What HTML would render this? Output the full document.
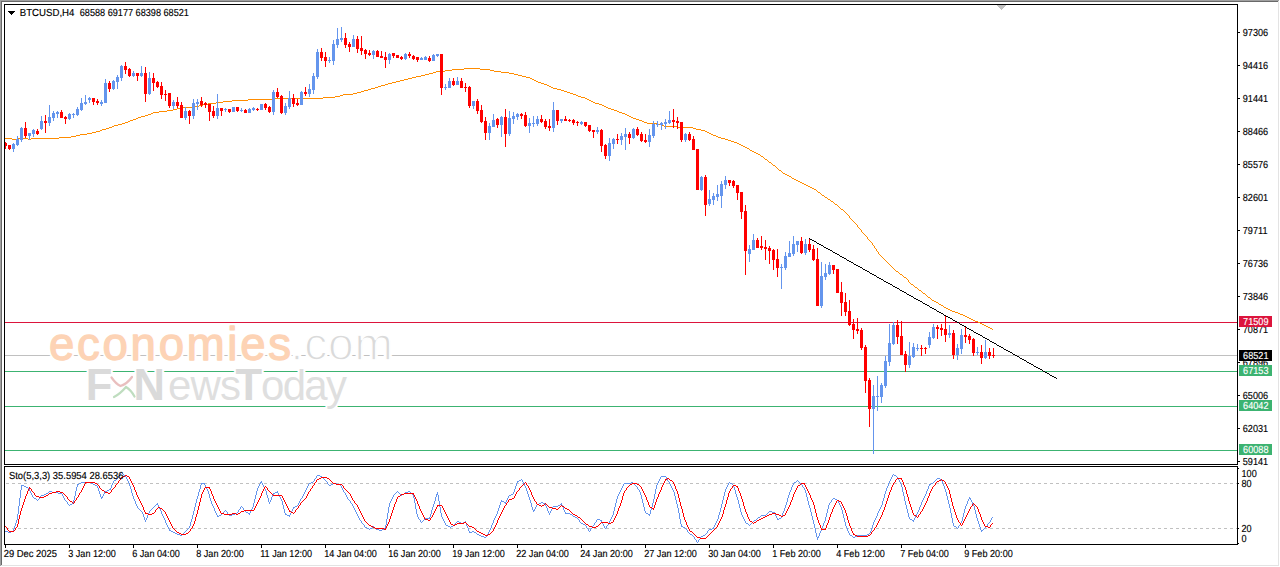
<!DOCTYPE html>
<html><head><meta charset="utf-8"><title>BTCUSD,H4</title>
<style>html,body{margin:0;padding:0;background:#fff;overflow:hidden}body{width:1280px;height:567px;font-family:"Liberation Sans",sans-serif}svg{display:block;position:absolute;left:0;top:0}text{font-family:"Liberation Sans",sans-serif}</style></head><body>
<svg width="1280" height="567" viewBox="0 0 1280 567">
<rect x="0" y="0" width="1280" height="567" fill="#fff"/>
<g shape-rendering="crispEdges">
<rect x="0" y="0" width="1279" height="1" fill="#A0A0A0"/>
<rect x="0" y="0" width="1" height="566" fill="#A0A0A0"/>
<rect x="1" y="1" width="1277" height="1" fill="#696969"/>
<rect x="1" y="1" width="1" height="564" fill="#696969"/>
<rect x="1" y="565" width="1278" height="1" fill="#E3E3E3"/>
<rect x="1278" y="1" width="1" height="565" fill="#E3E3E3"/>
</g>
<g shape-rendering="crispEdges">
<rect x="5" y="322" width="1232" height="1" fill="#DC143C"/>
<rect x="5" y="355" width="1232" height="1" fill="#C0C0C0"/>
<rect x="5" y="371" width="1232" height="1" fill="#3CB371"/>
<rect x="5" y="406" width="1232" height="1" fill="#3CB371"/>
<rect x="5" y="450" width="1232" height="1" fill="#3CB371"/>
</g>
<g id="wm">
<g font-size="45.5" letter-spacing="2.75">
<text x="49" y="360" fill="#fff" stroke="#fff" stroke-width="5" stroke-linejoin="round">economies</text>
<text x="49" y="360" fill="#FDD3B5" stroke="#FDD3B5" stroke-width="1.3" stroke-linejoin="round">economies</text>
</g>
<g font-size="46" letter-spacing="0.9">
<text x="290.5" y="360" fill="#fff" stroke="#fff" stroke-width="4">.com</text>
<text x="290.5" y="360" fill="#DADADA" stroke="#fff" stroke-width="1.4">.com</text>
</g>
<g fill="#fff" stroke="#fff" stroke-width="4">
<text x="85.7" y="400" font-size="43.5" font-weight="bold">F</text>
<text x="133.6" y="400" font-size="43.5" font-weight="bold">N</text>
<text x="168" y="400" font-size="42" letter-spacing="-0.9">ews</text>
<text x="235.6" y="400" font-size="43.5" font-weight="bold">T</text>
<text x="261" y="400" font-size="42" letter-spacing="-1.7">oday</text>
</g>
<g fill="#DADADA">
<text x="85.7" y="400" font-size="43.5" font-weight="bold">F</text>
<text x="133.6" y="400" font-size="43.5" font-weight="bold">N</text>
<text x="168" y="400" font-size="42" letter-spacing="-0.9" fill="#DFDFDF">ews</text>
<text x="235.6" y="400" font-size="43.5" font-weight="bold">T</text>
<text x="261" y="400" font-size="42" letter-spacing="-1.7" fill="#DFDFDF">oday</text>
</g>
<path d="M111.5 377.5 Q116 384 120.5 386 Q127 384 132 377" fill="none" stroke="#E9BFBF" stroke-width="2.2" stroke-linecap="round"/>
<path d="M114 397 Q120 394 126 387 Q131 390 134.5 396.5" fill="none" stroke="#BFDDBF" stroke-width="2.2" stroke-linecap="round"/>
</g>

<g shape-rendering="crispEdges" fill="#C0C0C0">
<path d="M6 483h3v1h-3zM12 483h3v1h-3zM18 483h3v1h-3zM24 483h3v1h-3zM30 483h3v1h-3zM36 483h3v1h-3zM42 483h3v1h-3zM48 483h3v1h-3zM54 483h3v1h-3zM60 483h3v1h-3zM66 483h3v1h-3zM72 483h3v1h-3zM78 483h3v1h-3zM84 483h3v1h-3zM90 483h3v1h-3zM96 483h3v1h-3zM102 483h3v1h-3zM108 483h3v1h-3zM114 483h3v1h-3zM120 483h3v1h-3zM126 483h3v1h-3zM132 483h3v1h-3zM138 483h3v1h-3zM144 483h3v1h-3zM150 483h3v1h-3zM156 483h3v1h-3zM162 483h3v1h-3zM168 483h3v1h-3zM174 483h3v1h-3zM180 483h3v1h-3zM186 483h3v1h-3zM192 483h3v1h-3zM198 483h3v1h-3zM204 483h3v1h-3zM210 483h3v1h-3zM216 483h3v1h-3zM222 483h3v1h-3zM228 483h3v1h-3zM234 483h3v1h-3zM240 483h3v1h-3zM246 483h3v1h-3zM252 483h3v1h-3zM258 483h3v1h-3zM264 483h3v1h-3zM270 483h3v1h-3zM276 483h3v1h-3zM282 483h3v1h-3zM288 483h3v1h-3zM294 483h3v1h-3zM300 483h3v1h-3zM306 483h3v1h-3zM312 483h3v1h-3zM318 483h3v1h-3zM324 483h3v1h-3zM330 483h3v1h-3zM336 483h3v1h-3zM342 483h3v1h-3zM348 483h3v1h-3zM354 483h3v1h-3zM360 483h3v1h-3zM366 483h3v1h-3zM372 483h3v1h-3zM378 483h3v1h-3zM384 483h3v1h-3zM390 483h3v1h-3zM396 483h3v1h-3zM402 483h3v1h-3zM408 483h3v1h-3zM414 483h3v1h-3zM420 483h3v1h-3zM426 483h3v1h-3zM432 483h3v1h-3zM438 483h3v1h-3zM444 483h3v1h-3zM450 483h3v1h-3zM456 483h3v1h-3zM462 483h3v1h-3zM468 483h3v1h-3zM474 483h3v1h-3zM480 483h3v1h-3zM486 483h3v1h-3zM492 483h3v1h-3zM498 483h3v1h-3zM504 483h3v1h-3zM510 483h3v1h-3zM516 483h3v1h-3zM522 483h3v1h-3zM528 483h3v1h-3zM534 483h3v1h-3zM540 483h3v1h-3zM546 483h3v1h-3zM552 483h3v1h-3zM558 483h3v1h-3zM564 483h3v1h-3zM570 483h3v1h-3zM576 483h3v1h-3zM582 483h3v1h-3zM588 483h3v1h-3zM594 483h3v1h-3zM600 483h3v1h-3zM606 483h3v1h-3zM612 483h3v1h-3zM618 483h3v1h-3zM624 483h3v1h-3zM630 483h3v1h-3zM636 483h3v1h-3zM642 483h3v1h-3zM648 483h3v1h-3zM654 483h3v1h-3zM660 483h3v1h-3zM666 483h3v1h-3zM672 483h3v1h-3zM678 483h3v1h-3zM684 483h3v1h-3zM690 483h3v1h-3zM696 483h3v1h-3zM702 483h3v1h-3zM708 483h3v1h-3zM714 483h3v1h-3zM720 483h3v1h-3zM726 483h3v1h-3zM732 483h3v1h-3zM738 483h3v1h-3zM744 483h3v1h-3zM750 483h3v1h-3zM756 483h3v1h-3zM762 483h3v1h-3zM768 483h3v1h-3zM774 483h3v1h-3zM780 483h3v1h-3zM786 483h3v1h-3zM792 483h3v1h-3zM798 483h3v1h-3zM804 483h3v1h-3zM810 483h3v1h-3zM816 483h3v1h-3zM822 483h3v1h-3zM828 483h3v1h-3zM834 483h3v1h-3zM840 483h3v1h-3zM846 483h3v1h-3zM852 483h3v1h-3zM858 483h3v1h-3zM864 483h3v1h-3zM870 483h3v1h-3zM876 483h3v1h-3zM882 483h3v1h-3zM888 483h3v1h-3zM894 483h3v1h-3zM900 483h3v1h-3zM906 483h3v1h-3zM912 483h3v1h-3zM918 483h3v1h-3zM924 483h3v1h-3zM930 483h3v1h-3zM936 483h3v1h-3zM942 483h3v1h-3zM948 483h3v1h-3zM954 483h3v1h-3zM960 483h3v1h-3zM966 483h3v1h-3zM972 483h3v1h-3zM978 483h3v1h-3zM984 483h3v1h-3zM990 483h3v1h-3zM996 483h3v1h-3zM1002 483h3v1h-3zM1008 483h3v1h-3zM1014 483h3v1h-3zM1020 483h3v1h-3zM1026 483h3v1h-3zM1032 483h3v1h-3zM1038 483h3v1h-3zM1044 483h3v1h-3zM1050 483h3v1h-3zM1056 483h3v1h-3zM1062 483h3v1h-3zM1068 483h3v1h-3zM1074 483h3v1h-3zM1080 483h3v1h-3zM1086 483h3v1h-3zM1092 483h3v1h-3zM1098 483h3v1h-3zM1104 483h3v1h-3zM1110 483h3v1h-3zM1116 483h3v1h-3zM1122 483h3v1h-3zM1128 483h3v1h-3zM1134 483h3v1h-3zM1140 483h3v1h-3zM1146 483h3v1h-3zM1152 483h3v1h-3zM1158 483h3v1h-3zM1164 483h3v1h-3zM1170 483h3v1h-3zM1176 483h3v1h-3zM1182 483h3v1h-3zM1188 483h3v1h-3zM1194 483h3v1h-3zM1200 483h3v1h-3zM1206 483h3v1h-3zM1212 483h3v1h-3zM1218 483h3v1h-3zM1224 483h3v1h-3zM1230 483h3v1h-3zM1236 483h1v1h-1z"/>
<path d="M6 528h3v1h-3zM12 528h3v1h-3zM18 528h3v1h-3zM24 528h3v1h-3zM30 528h3v1h-3zM36 528h3v1h-3zM42 528h3v1h-3zM48 528h3v1h-3zM54 528h3v1h-3zM60 528h3v1h-3zM66 528h3v1h-3zM72 528h3v1h-3zM78 528h3v1h-3zM84 528h3v1h-3zM90 528h3v1h-3zM96 528h3v1h-3zM102 528h3v1h-3zM108 528h3v1h-3zM114 528h3v1h-3zM120 528h3v1h-3zM126 528h3v1h-3zM132 528h3v1h-3zM138 528h3v1h-3zM144 528h3v1h-3zM150 528h3v1h-3zM156 528h3v1h-3zM162 528h3v1h-3zM168 528h3v1h-3zM174 528h3v1h-3zM180 528h3v1h-3zM186 528h3v1h-3zM192 528h3v1h-3zM198 528h3v1h-3zM204 528h3v1h-3zM210 528h3v1h-3zM216 528h3v1h-3zM222 528h3v1h-3zM228 528h3v1h-3zM234 528h3v1h-3zM240 528h3v1h-3zM246 528h3v1h-3zM252 528h3v1h-3zM258 528h3v1h-3zM264 528h3v1h-3zM270 528h3v1h-3zM276 528h3v1h-3zM282 528h3v1h-3zM288 528h3v1h-3zM294 528h3v1h-3zM300 528h3v1h-3zM306 528h3v1h-3zM312 528h3v1h-3zM318 528h3v1h-3zM324 528h3v1h-3zM330 528h3v1h-3zM336 528h3v1h-3zM342 528h3v1h-3zM348 528h3v1h-3zM354 528h3v1h-3zM360 528h3v1h-3zM366 528h3v1h-3zM372 528h3v1h-3zM378 528h3v1h-3zM384 528h3v1h-3zM390 528h3v1h-3zM396 528h3v1h-3zM402 528h3v1h-3zM408 528h3v1h-3zM414 528h3v1h-3zM420 528h3v1h-3zM426 528h3v1h-3zM432 528h3v1h-3zM438 528h3v1h-3zM444 528h3v1h-3zM450 528h3v1h-3zM456 528h3v1h-3zM462 528h3v1h-3zM468 528h3v1h-3zM474 528h3v1h-3zM480 528h3v1h-3zM486 528h3v1h-3zM492 528h3v1h-3zM498 528h3v1h-3zM504 528h3v1h-3zM510 528h3v1h-3zM516 528h3v1h-3zM522 528h3v1h-3zM528 528h3v1h-3zM534 528h3v1h-3zM540 528h3v1h-3zM546 528h3v1h-3zM552 528h3v1h-3zM558 528h3v1h-3zM564 528h3v1h-3zM570 528h3v1h-3zM576 528h3v1h-3zM582 528h3v1h-3zM588 528h3v1h-3zM594 528h3v1h-3zM600 528h3v1h-3zM606 528h3v1h-3zM612 528h3v1h-3zM618 528h3v1h-3zM624 528h3v1h-3zM630 528h3v1h-3zM636 528h3v1h-3zM642 528h3v1h-3zM648 528h3v1h-3zM654 528h3v1h-3zM660 528h3v1h-3zM666 528h3v1h-3zM672 528h3v1h-3zM678 528h3v1h-3zM684 528h3v1h-3zM690 528h3v1h-3zM696 528h3v1h-3zM702 528h3v1h-3zM708 528h3v1h-3zM714 528h3v1h-3zM720 528h3v1h-3zM726 528h3v1h-3zM732 528h3v1h-3zM738 528h3v1h-3zM744 528h3v1h-3zM750 528h3v1h-3zM756 528h3v1h-3zM762 528h3v1h-3zM768 528h3v1h-3zM774 528h3v1h-3zM780 528h3v1h-3zM786 528h3v1h-3zM792 528h3v1h-3zM798 528h3v1h-3zM804 528h3v1h-3zM810 528h3v1h-3zM816 528h3v1h-3zM822 528h3v1h-3zM828 528h3v1h-3zM834 528h3v1h-3zM840 528h3v1h-3zM846 528h3v1h-3zM852 528h3v1h-3zM858 528h3v1h-3zM864 528h3v1h-3zM870 528h3v1h-3zM876 528h3v1h-3zM882 528h3v1h-3zM888 528h3v1h-3zM894 528h3v1h-3zM900 528h3v1h-3zM906 528h3v1h-3zM912 528h3v1h-3zM918 528h3v1h-3zM924 528h3v1h-3zM930 528h3v1h-3zM936 528h3v1h-3zM942 528h3v1h-3zM948 528h3v1h-3zM954 528h3v1h-3zM960 528h3v1h-3zM966 528h3v1h-3zM972 528h3v1h-3zM978 528h3v1h-3zM984 528h3v1h-3zM990 528h3v1h-3zM996 528h3v1h-3zM1002 528h3v1h-3zM1008 528h3v1h-3zM1014 528h3v1h-3zM1020 528h3v1h-3zM1026 528h3v1h-3zM1032 528h3v1h-3zM1038 528h3v1h-3zM1044 528h3v1h-3zM1050 528h3v1h-3zM1056 528h3v1h-3zM1062 528h3v1h-3zM1068 528h3v1h-3zM1074 528h3v1h-3zM1080 528h3v1h-3zM1086 528h3v1h-3zM1092 528h3v1h-3zM1098 528h3v1h-3zM1104 528h3v1h-3zM1110 528h3v1h-3zM1116 528h3v1h-3zM1122 528h3v1h-3zM1128 528h3v1h-3zM1134 528h3v1h-3zM1140 528h3v1h-3zM1146 528h3v1h-3zM1152 528h3v1h-3zM1158 528h3v1h-3zM1164 528h3v1h-3zM1170 528h3v1h-3zM1176 528h3v1h-3zM1182 528h3v1h-3zM1188 528h3v1h-3zM1194 528h3v1h-3zM1200 528h3v1h-3zM1206 528h3v1h-3zM1212 528h3v1h-3zM1218 528h3v1h-3zM1224 528h3v1h-3zM1230 528h3v1h-3zM1236 528h1v1h-1z"/>
</g>
<path fill="#FF8C00" shape-rendering="crispEdges" d="M5 138h7v1h-7zM12 139h6v1h-6zM18 138h10v1h-10zM28 139h3v1h-3zM31 138h28v1h-28zM59 137h12v1h-12zM71 136h5v1h-5zM76 135h4v1h-4zM80 134h7v1h-7zM87 133h5v1h-5zM92 132h4v1h-4zM96 131h4v1h-4zM100 130h2v1h-2zM102 129h4v1h-4zM106 128h3v1h-3zM109 127h3v1h-3zM112 126h2v1h-2zM114 125h4v1h-4zM118 124h4v1h-4zM122 123h3v1h-3zM125 122h3v1h-3zM128 121h2v1h-2zM130 120h3v1h-3zM133 119h3v1h-3zM136 118h2v1h-2zM138 117h3v1h-3zM141 116h4v1h-4zM145 115h3v1h-3zM148 114h3v1h-3zM151 113h2v1h-2zM153 112h6v1h-6zM159 111h8v1h-8zM167 110h6v1h-6zM173 109h4v1h-4zM177 108h4v1h-4zM181 107h14v1h-14zM195 106h4v1h-4zM199 105h4v1h-4zM203 104h5v1h-5zM208 103h8v1h-8zM216 102h7v1h-7zM223 101h9v1h-9zM232 100h16v1h-16zM248 99h24v1h-24zM272 98h51v1h-51zM323 97h12v1h-12zM335 96h5v1h-5zM340 95h3v1h-3zM343 94h10v1h-10zM353 93h4v1h-4zM357 92h4v1h-4zM361 91h3v1h-3zM364 90h4v1h-4zM368 89h3v1h-3zM371 88h4v1h-4zM375 87h3v1h-3zM378 86h3v1h-3zM381 85h4v1h-4zM385 84h3v1h-3zM388 83h4v1h-4zM392 82h4v1h-4zM396 81h4v1h-4zM400 80h4v1h-4zM404 79h4v1h-4zM408 78h4v1h-4zM412 77h4v1h-4zM416 76h5v1h-5zM421 75h4v1h-4zM425 74h4v1h-4zM429 73h4v1h-4zM433 72h3v1h-3zM436 71h9v1h-9zM445 70h7v1h-7zM452 69h12v1h-12zM464 68h16v1h-16zM480 69h10v1h-10zM490 70h4v1h-4zM494 71h7v1h-7zM501 72h8v1h-8zM509 73h5v1h-5zM514 74h4v1h-4zM518 75h4v1h-4zM522 76h4v1h-4zM526 77h4v1h-4zM530 78h2v1h-2zM532 79h2v1h-2zM534 80h2v1h-2zM536 81h2v1h-2zM538 82h3v1h-3zM541 83h3v1h-3zM544 84h3v1h-3zM547 85h2v1h-2zM549 86h2v1h-2zM551 87h2v1h-2zM553 88h4v1h-4zM557 89h4v1h-4zM561 90h3v1h-3zM564 91h3v1h-3zM567 92h3v1h-3zM570 93h3v1h-3zM573 94h3v1h-3zM576 95h2v1h-2zM578 96h3v1h-3zM581 97h4v1h-4zM585 98h2v1h-2zM587 99h2v1h-2zM589 100h2v1h-2zM591 101h2v1h-2zM593 102h2v1h-2zM595 103h4v1h-4zM599 104h3v1h-3zM602 105h2v1h-2zM604 106h2v1h-2zM606 107h2v1h-2zM608 108h3v1h-3zM611 109h3v1h-3zM614 110h3v1h-3zM617 111h2v1h-2zM619 112h3v1h-3zM622 113h3v1h-3zM625 114h2v1h-2zM627 115h2v1h-2zM629 116h2v1h-2zM631 117h2v1h-2zM633 118h3v1h-3zM636 119h3v1h-3zM639 120h3v1h-3zM642 121h2v1h-2zM644 122h3v1h-3zM647 123h11v1h-11zM658 124h4v1h-4zM662 125h2v1h-2zM664 126h13v1h-13zM677 127h16v1h-16zM693 128h3v1h-3zM696 129h5v1h-5zM701 130h4v1h-4zM705 131h2v1h-2zM707 132h2v1h-2zM709 133h2v1h-2zM711 134h2v1h-2zM713 135h3v1h-3zM716 136h2v1h-2zM718 137h3v1h-3zM721 138h4v1h-4zM725 139h3v1h-3zM728 140h3v1h-3zM731 141h3v1h-3zM734 142h3v1h-3zM737 143h2v1h-2zM739 144h2v1h-2zM741 145h2v1h-2zM743 146h2v1h-2zM745 147h2v1h-2zM747 148h2v1h-2zM749 149h1v1h-1zM750 150h2v1h-2zM752 151h2v1h-2zM754 152h2v1h-2zM756 153h2v1h-2zM758 154h2v1h-2zM760 155h1v1h-1zM761 156h2v1h-2zM763 157h1v1h-1zM764 158h1v1h-1zM765 159h2v1h-2zM767 160h1v1h-1zM768 161h1v1h-1zM769 162h2v1h-2zM771 163h1v1h-1zM772 164h1v1h-1zM773 165h2v1h-2zM775 166h1v1h-1zM776 167h1v1h-1zM777 168h1v1h-1zM778 169h1v1h-1zM779 170h2v1h-2zM781 171h1v1h-1zM782 172h1v1h-1zM783 173h2v1h-2zM785 174h2v1h-2zM787 175h2v1h-2zM789 176h2v1h-2zM791 177h1v1h-1zM792 178h2v1h-2zM794 179h2v1h-2zM796 180h2v1h-2zM798 181h2v1h-2zM800 182h2v1h-2zM802 183h2v1h-2zM804 184h2v1h-2zM806 185h2v1h-2zM808 186h2v1h-2zM810 187h2v1h-2zM812 188h2v1h-2zM814 189h2v1h-2zM816 190h1v1h-1zM817 191h1v1h-1zM818 192h2v1h-2zM820 193h1v1h-1zM821 194h1v1h-1zM822 195h2v1h-2zM824 196h1v1h-1zM825 197h2v1h-2zM827 198h1v1h-1zM828 199h2v1h-2zM830 200h1v1h-1zM831 201h2v1h-2zM833 202h1v1h-1zM834 203h1v1h-1zM835 204h2v1h-2zM837 205h1v1h-1zM838 206h1v1h-1zM839 207h1v1h-1zM840 208h1v1h-1zM841 209h2v1h-2zM843 210h1v1h-1zM844 211h1v1h-1zM845 212h1v1h-1zM846 213h1v1h-1zM847 214h1v1h-1zM848 215h1v1h-1zM849 216h1v1h-1zM849 217h1v1h-1zM850 218h1v1h-1zM851 219h1v1h-1zM852 220h1v1h-1zM853 221h1v1h-1zM854 222h1v1h-1zM855 223h1v1h-1zM856 224h1v1h-1zM857 225h1v1h-1zM857 226h1v1h-1zM858 227h1v1h-1zM859 228h1v1h-1zM860 229h1v1h-1zM861 230h1v1h-1zM861 231h1v1h-1zM862 232h1v1h-1zM863 233h1v1h-1zM864 234h1v1h-1zM865 235h1v1h-1zM866 236h1v1h-1zM867 237h1v1h-1zM867 238h1v1h-1zM868 239h1v1h-1zM869 240h1v1h-1zM870 241h1v1h-1zM871 242h1v1h-1zM872 243h1v1h-1zM872 244h1v1h-1zM873 245h1v1h-1zM874 246h1v1h-1zM874 247h1v1h-1zM875 248h1v1h-1zM876 249h1v1h-1zM876 250h1v1h-1zM877 251h1v1h-1zM878 252h1v1h-1zM878 253h1v1h-1zM879 254h1v1h-1zM880 255h1v1h-1zM881 256h1v1h-1zM882 257h1v1h-1zM883 258h1v1h-1zM884 259h1v1h-1zM885 260h1v1h-1zM886 261h1v1h-1zM887 262h1v1h-1zM888 263h1v1h-1zM889 264h1v1h-1zM890 265h1v1h-1zM891 266h1v1h-1zM892 267h1v1h-1zM893 268h1v1h-1zM894 269h1v1h-1zM895 270h1v1h-1zM896 271h2v1h-2zM898 272h1v1h-1zM899 273h1v1h-1zM900 274h2v1h-2zM902 275h1v1h-1zM903 276h1v1h-1zM904 277h2v1h-2zM906 278h1v1h-1zM907 279h1v1h-1zM908 280h1v1h-1zM908 281h1v1h-1zM909 282h1v1h-1zM910 283h1v1h-1zM911 284h2v1h-2zM913 285h1v1h-1zM914 286h1v1h-1zM915 287h2v1h-2zM917 288h1v1h-1zM918 289h1v1h-1zM919 290h2v1h-2zM921 291h1v1h-1zM922 292h1v1h-1zM923 293h2v1h-2zM925 294h1v1h-1zM926 295h1v1h-1zM927 296h1v1h-1zM928 297h2v1h-2zM930 298h1v1h-1zM931 299h1v1h-1zM932 300h2v1h-2zM934 301h2v1h-2zM936 302h2v1h-2zM938 303h1v1h-1zM939 304h2v1h-2zM941 305h2v1h-2zM943 306h1v1h-1zM944 307h2v1h-2zM946 308h2v1h-2zM948 309h2v1h-2zM950 310h2v1h-2zM952 311h3v1h-3zM955 312h3v1h-3zM958 313h2v1h-2zM960 314h3v1h-3zM963 315h2v1h-2zM965 316h2v1h-2zM967 317h2v1h-2zM969 318h2v1h-2zM971 319h2v1h-2zM973 320h2v1h-2zM975 321h3v1h-3zM978 322h2v1h-2zM980 323h2v1h-2zM982 324h2v1h-2zM984 325h2v1h-2zM986 326h2v1h-2zM988 327h2v1h-2zM990 328h2v1h-2zM992 329h1v1h-1z"/>
<g shape-rendering="crispEdges">
<path fill="#6495ED" d="M13 143h1v9h-1zM12 144h3v5h-3zM17 136h1v10h-1zM16 139h3v6h-3zM21 127h1v15h-1zM20 128h3v12h-3zM29 133h1v7h-1zM28 133h3v3h-3zM33 129h1v8h-1zM32 130h3v4h-3zM41 116h1v14h-1zM40 121h3v8h-3zM49 105h1v21h-1zM48 117h3v6h-3zM53 111h1v10h-1zM52 113h3v5h-3zM57 111h1v7h-1zM56 112h3v2h-3zM69 113h1v7h-1zM68 114h3v5h-3zM73 113h1v5h-1zM72 114h3v1h-3zM77 107h1v9h-1zM76 109h3v6h-3zM81 98h1v13h-1zM80 103h3v7h-3zM85 95h1v10h-1zM84 102h3v2h-3zM89 97h1v6h-1zM88 98h3v2h-3zM101 100h1v6h-1zM100 102h3v2h-3zM105 79h1v24h-1zM104 83h3v20h-3zM113 80h1v10h-1zM112 81h3v8h-3zM117 75h1v14h-1zM116 77h3v5h-3zM121 65h1v16h-1zM120 66h3v12h-3zM133 71h1v6h-1zM132 73h3v3h-3zM141 66h1v11h-1zM140 73h3v3h-3zM149 72h1v23h-1zM148 78h3v16h-3zM173 100h1v9h-1zM172 102h3v4h-3zM185 107h1v13h-1zM184 111h3v7h-3zM193 99h1v20h-1zM192 103h3v13h-3zM197 99h1v11h-1zM196 102h3v2h-3zM217 94h1v25h-1zM216 108h3v8h-3zM225 108h1v4h-1zM224 109h3v1h-3zM233 107h1v5h-1zM232 107h3v5h-3zM241 108h1v4h-1zM240 110h3v1h-3zM249 108h1v5h-1zM248 109h3v4h-3zM253 107h1v4h-1zM252 108h3v2h-3zM261 104h1v6h-1zM260 104h3v6h-3zM273 90h1v25h-1zM272 92h3v20h-3zM285 103h1v12h-1zM284 106h3v7h-3zM289 91h1v18h-1zM288 98h3v9h-3zM301 91h1v14h-1zM300 92h3v13h-3zM309 84h1v13h-1zM308 89h3v5h-3zM313 73h1v21h-1zM312 76h3v14h-3zM317 49h1v30h-1zM316 52h3v25h-3zM329 57h1v6h-1zM328 60h3v1h-3zM333 40h1v25h-1zM332 44h3v17h-3zM337 28h1v20h-1zM336 39h3v6h-3zM341 27h1v15h-1zM340 38h3v2h-3zM353 35h1v12h-1zM352 39h3v8h-3zM373 50h1v9h-1zM372 51h3v4h-3zM389 53h1v11h-1zM388 54h3v6h-3zM405 53h1v7h-1zM404 54h3v5h-3zM421 57h1v3h-1zM420 58h3v2h-3zM425 56h1v4h-1zM424 57h3v3h-3zM433 54h1v7h-1zM432 55h3v6h-3zM437 54h1v3h-1zM436 54h3v2h-3zM445 84h1v6h-1zM444 87h3v1h-3zM449 78h1v10h-1zM448 81h3v7h-3zM457 77h1v8h-1zM456 81h3v4h-3zM473 101h1v8h-1zM472 101h3v5h-3zM489 123h1v17h-1zM488 126h3v7h-3zM493 114h1v13h-1zM492 120h3v7h-3zM501 116h1v21h-1zM500 117h3v8h-3zM509 111h1v25h-1zM508 118h3v16h-3zM513 112h1v12h-1zM512 116h3v3h-3zM517 113h1v7h-1zM516 114h3v3h-3zM529 118h1v15h-1zM528 123h3v3h-3zM533 116h1v11h-1zM532 123h3v1h-3zM537 116h1v10h-1zM536 119h3v5h-3zM553 102h1v30h-1zM552 110h3v18h-3zM561 119h1v4h-1zM560 119h3v2h-3zM581 121h1v4h-1zM580 122h3v2h-3zM597 127h1v7h-1zM596 130h3v2h-3zM609 138h1v23h-1zM608 143h3v13h-3zM613 138h1v11h-1zM612 139h3v5h-3zM621 133h1v12h-1zM620 136h3v4h-3zM625 128h1v22h-1zM624 134h3v3h-3zM633 128h1v11h-1zM632 129h3v9h-3zM649 129h1v18h-1zM648 135h3v7h-3zM653 121h1v17h-1zM652 124h3v12h-3zM657 121h1v6h-1zM656 124h3v1h-3zM661 122h1v8h-1zM660 123h3v2h-3zM665 119h1v10h-1zM664 122h3v2h-3zM669 111h1v13h-1zM668 120h3v3h-3zM685 133h1v9h-1zM684 134h3v6h-3zM701 176h1v15h-1zM700 177h3v13h-3zM709 190h1v16h-1zM708 199h3v5h-3zM713 193h1v12h-1zM712 196h3v4h-3zM717 185h1v16h-1zM716 194h3v3h-3zM721 181h1v27h-1zM720 184h3v12h-3zM725 176h1v13h-1zM724 180h3v5h-3zM749 245h1v17h-1zM748 249h3v5h-3zM753 234h1v16h-1zM752 240h3v10h-3zM781 264h1v25h-1zM780 267h3v1h-3zM785 252h1v18h-1zM784 256h3v12h-3zM789 241h1v16h-1zM788 253h3v4h-3zM793 236h1v20h-1zM792 244h3v10h-3zM797 241h1v11h-1zM796 241h3v4h-3zM805 239h1v16h-1zM804 244h3v9h-3zM821 262h1v46h-1zM820 276h3v30h-3zM825 264h1v16h-1zM824 273h3v4h-3zM829 262h1v13h-1zM828 265h3v9h-3zM873 385h1v69h-1zM872 396h3v13h-3zM877 376h1v35h-1zM876 396h3v1h-3zM881 383h1v20h-1zM880 385h3v12h-3zM885 356h1v32h-1zM884 361h3v25h-3zM889 324h1v42h-1zM888 343h3v19h-3zM893 322h1v23h-1zM892 325h3v19h-3zM909 342h1v26h-1zM908 356h3v9h-3zM913 343h1v15h-1zM912 347h3v10h-3zM917 344h1v7h-1zM916 348h3v1h-3zM929 332h1v16h-1zM928 337h3v8h-3zM933 324h1v15h-1zM932 327h3v11h-3zM949 325h1v13h-1zM948 333h3v2h-3zM957 344h1v16h-1zM956 348h3v7h-3zM961 329h1v25h-1zM960 335h3v14h-3zM977 347h1v8h-1zM976 352h3v1h-3zM985 340h1v19h-1zM984 352h3v6h-3z"/>
<path fill="#FF0000" d="M5 142h1v7h-1zM4 143h3v3h-3zM9 145h1v5h-1zM8 145h3v4h-3zM25 122h1v16h-1zM24 128h3v8h-3zM37 129h1v6h-1zM36 131h3v3h-3zM45 115h1v18h-1zM44 121h3v2h-3zM61 110h1v8h-1zM60 112h3v6h-3zM65 116h1v8h-1zM64 117h3v2h-3zM93 98h1v7h-1zM92 98h3v4h-3zM97 99h1v6h-1zM96 101h3v2h-3zM109 81h1v11h-1zM108 83h3v6h-3zM125 62h1v12h-1zM124 66h3v4h-3zM129 68h1v9h-1zM128 69h3v7h-3zM137 73h1v8h-1zM136 73h3v3h-3zM145 67h1v35h-1zM144 73h3v21h-3zM153 73h1v18h-1zM152 78h3v5h-3zM157 81h1v7h-1zM156 82h3v5h-3zM161 82h1v17h-1zM160 86h3v9h-3zM165 90h1v11h-1zM164 94h3v1h-3zM169 93h1v15h-1zM168 93h3v13h-3zM177 97h1v11h-1zM176 102h3v4h-3zM181 102h1v16h-1zM180 105h3v13h-3zM189 110h1v14h-1zM188 111h3v5h-3zM201 97h1v10h-1zM200 101h3v4h-3zM205 102h1v6h-1zM204 103h3v2h-3zM209 104h1v17h-1zM208 104h3v8h-3zM213 106h1v12h-1zM212 111h3v5h-3zM221 108h1v8h-1zM220 108h3v3h-3zM229 109h1v4h-1zM228 109h3v3h-3zM237 107h1v5h-1zM236 107h3v4h-3zM245 109h1v4h-1zM244 110h3v3h-3zM257 108h1v3h-1zM256 109h3v1h-3zM265 103h1v7h-1zM264 104h3v4h-3zM269 106h1v7h-1zM268 107h3v5h-3zM277 88h1v10h-1zM276 92h3v5h-3zM281 95h1v19h-1zM280 96h3v17h-3zM293 94h1v13h-1zM292 98h3v6h-3zM297 99h1v7h-1zM296 103h3v2h-3zM305 87h1v9h-1zM304 92h3v2h-3zM321 48h1v13h-1zM320 52h3v6h-3zM325 52h1v15h-1zM324 57h3v4h-3zM345 33h1v15h-1zM344 38h3v7h-3zM349 42h1v10h-1zM348 44h3v3h-3zM357 36h1v17h-1zM356 39h3v10h-3zM361 36h1v19h-1zM360 48h3v3h-3zM365 49h1v10h-1zM364 50h3v4h-3zM369 50h1v6h-1zM368 53h3v2h-3zM377 50h1v7h-1zM376 51h3v6h-3zM381 51h1v7h-1zM380 56h3v2h-3zM385 52h1v16h-1zM384 57h3v3h-3zM393 53h1v5h-1zM392 53h3v3h-3zM397 55h1v3h-1zM396 55h3v3h-3zM401 56h1v4h-1zM400 57h3v2h-3zM409 52h1v6h-1zM408 54h3v2h-3zM413 55h1v5h-1zM412 56h3v3h-3zM417 57h1v5h-1zM416 57h3v3h-3zM429 56h1v6h-1zM428 58h3v3h-3zM441 54h1v41h-1zM440 54h3v34h-3zM453 78h1v8h-1zM452 81h3v4h-3zM461 78h1v10h-1zM460 81h3v7h-3zM465 83h1v9h-1zM464 87h3v1h-3zM469 86h1v22h-1zM468 87h3v19h-3zM477 99h1v15h-1zM476 101h3v10h-3zM481 105h1v18h-1zM480 110h3v12h-3zM485 117h1v23h-1zM484 121h3v12h-3zM497 118h1v10h-1zM496 119h3v6h-3zM505 109h1v38h-1zM504 117h3v17h-3zM521 113h1v6h-1zM520 114h3v2h-3zM525 112h1v15h-1zM524 115h3v11h-3zM541 115h1v8h-1zM540 119h3v3h-3zM545 119h1v10h-1zM544 121h3v6h-3zM549 119h1v12h-1zM548 126h3v2h-3zM557 110h1v15h-1zM556 110h3v11h-3zM565 116h1v5h-1zM564 119h3v2h-3zM569 119h1v3h-1zM568 120h3v1h-3zM573 119h1v6h-1zM572 120h3v3h-3zM577 121h1v5h-1zM576 122h3v1h-3zM585 122h1v5h-1zM584 122h3v4h-3zM589 125h1v7h-1zM588 125h3v6h-3zM593 130h1v8h-1zM592 130h3v2h-3zM601 129h1v23h-1zM600 130h3v16h-3zM605 144h1v15h-1zM604 145h3v11h-3zM617 134h1v10h-1zM616 139h3v1h-3zM629 132h1v12h-1zM628 134h3v4h-3zM637 127h1v9h-1zM636 129h3v6h-3zM641 132h1v10h-1zM640 134h3v7h-3zM645 134h1v9h-1zM644 140h3v2h-3zM673 109h1v19h-1zM672 120h3v2h-3zM677 117h1v12h-1zM676 121h3v2h-3zM681 122h1v20h-1zM680 122h3v18h-3zM689 132h1v9h-1zM688 134h3v6h-3zM693 136h1v14h-1zM692 139h3v11h-3zM697 149h1v41h-1zM696 149h3v41h-3zM705 175h1v41h-1zM704 177h3v28h-3zM729 180h1v6h-1zM728 180h3v3h-3zM733 180h1v8h-1zM732 181h3v5h-3zM737 185h1v15h-1zM736 185h3v8h-3zM741 192h1v27h-1zM740 192h3v20h-3zM745 205h1v70h-1zM744 211h3v40h-3zM757 238h1v10h-1zM756 240h3v8h-3zM761 236h1v14h-1zM760 246h3v2h-3zM765 240h1v20h-1zM764 247h3v2h-3zM769 246h1v18h-1zM768 248h3v3h-3zM773 249h1v21h-1zM772 250h3v10h-3zM777 249h1v28h-1zM776 259h3v9h-3zM801 237h1v17h-1zM800 241h3v12h-3zM809 238h1v14h-1zM808 244h3v6h-3zM813 245h1v16h-1zM812 249h3v11h-3zM817 248h1v58h-1zM816 259h3v47h-3zM833 265h1v9h-1zM832 265h3v5h-3zM837 269h1v24h-1zM836 269h3v24h-3zM841 282h1v34h-1zM840 292h3v11h-3zM845 293h1v23h-1zM844 302h3v10h-3zM849 300h1v26h-1zM848 311h3v14h-3zM853 319h1v20h-1zM852 324h3v6h-3zM857 318h1v16h-1zM856 329h3v2h-3zM861 328h1v22h-1zM860 330h3v18h-3zM865 345h1v48h-1zM864 347h3v34h-3zM869 378h1v49h-1zM868 380h3v29h-3zM897 320h1v24h-1zM896 325h3v12h-3zM901 321h1v34h-1zM900 336h3v19h-3zM905 351h1v21h-1zM904 354h3v11h-3zM921 345h1v11h-1zM920 348h3v1h-3zM925 347h1v7h-1zM924 348h3v1h-3zM937 325h1v14h-1zM936 327h3v2h-3zM941 324h1v12h-1zM940 328h3v2h-3zM945 316h1v26h-1zM944 329h3v6h-3zM953 330h1v29h-1zM952 333h3v22h-3zM965 327h1v16h-1zM964 335h3v2h-3zM969 334h1v10h-1zM968 336h3v4h-3zM973 338h1v18h-1zM972 339h3v14h-3zM981 345h1v19h-1zM980 352h3v6h-3zM989 348h1v11h-1zM988 352h3v4h-3zM993 348h1v10h-1zM992 355h3v1h-3z"/>
</g>
<path fill="#000" shape-rendering="crispEdges" d="M809 238h1v1h-1zM810 239h2v1h-2zM812 240h2v1h-2zM814 241h2v1h-2zM816 242h1v1h-1zM817 243h2v1h-2zM819 244h2v1h-2zM821 245h2v1h-2zM823 246h1v1h-1zM824 247h2v1h-2zM826 248h2v1h-2zM828 249h2v1h-2zM830 250h2v1h-2zM832 251h1v1h-1zM833 252h2v1h-2zM835 253h2v1h-2zM837 254h2v1h-2zM839 255h1v1h-1zM840 256h2v1h-2zM842 257h2v1h-2zM844 258h2v1h-2zM846 259h1v1h-1zM847 260h2v1h-2zM849 261h2v1h-2zM851 262h2v1h-2zM853 263h1v1h-1zM854 264h2v1h-2zM856 265h2v1h-2zM858 266h2v1h-2zM860 267h2v1h-2zM862 268h1v1h-1zM863 269h2v1h-2zM865 270h2v1h-2zM867 271h2v1h-2zM869 272h1v1h-1zM870 273h2v1h-2zM872 274h2v1h-2zM874 275h2v1h-2zM876 276h1v1h-1zM877 277h2v1h-2zM879 278h2v1h-2zM881 279h2v1h-2zM883 280h1v1h-1zM884 281h2v1h-2zM886 282h2v1h-2zM888 283h2v1h-2zM890 284h2v1h-2zM892 285h1v1h-1zM893 286h2v1h-2zM895 287h2v1h-2zM897 288h2v1h-2zM899 289h1v1h-1zM900 290h2v1h-2zM902 291h2v1h-2zM904 292h2v1h-2zM906 293h1v1h-1zM907 294h2v1h-2zM909 295h2v1h-2zM911 296h2v1h-2zM913 297h1v1h-1zM914 298h2v1h-2zM916 299h2v1h-2zM918 300h2v1h-2zM920 301h2v1h-2zM922 302h1v1h-1zM923 303h2v1h-2zM925 304h2v1h-2zM927 305h2v1h-2zM929 306h1v1h-1zM930 307h2v1h-2zM932 308h2v1h-2zM934 309h2v1h-2zM936 310h1v1h-1zM937 311h2v1h-2zM939 312h2v1h-2zM941 313h2v1h-2zM943 314h1v1h-1zM944 315h2v1h-2zM946 316h2v1h-2zM948 317h2v1h-2zM950 318h2v1h-2zM952 319h1v1h-1zM953 320h2v1h-2zM955 321h2v1h-2zM957 322h2v1h-2zM959 323h1v1h-1zM960 324h2v1h-2zM962 325h2v1h-2zM964 326h2v1h-2zM966 327h1v1h-1zM967 328h2v1h-2zM969 329h2v1h-2zM971 330h2v1h-2zM973 331h1v1h-1zM974 332h2v1h-2zM976 333h2v1h-2zM978 334h2v1h-2zM980 335h2v1h-2zM982 336h1v1h-1zM983 337h2v1h-2zM985 338h2v1h-2zM987 339h2v1h-2zM989 340h1v1h-1zM990 341h2v1h-2zM992 342h2v1h-2zM994 343h2v1h-2zM996 344h1v1h-1zM997 345h2v1h-2zM999 346h2v1h-2zM1001 347h2v1h-2zM1003 348h1v1h-1zM1004 349h2v1h-2zM1006 350h2v1h-2zM1008 351h2v1h-2zM1010 352h2v1h-2zM1012 353h1v1h-1zM1013 354h2v1h-2zM1015 355h2v1h-2zM1017 356h2v1h-2zM1019 357h1v1h-1zM1020 358h2v1h-2zM1022 359h2v1h-2zM1024 360h2v1h-2zM1026 361h1v1h-1zM1027 362h2v1h-2zM1029 363h2v1h-2zM1031 364h2v1h-2zM1033 365h1v1h-1zM1034 366h2v1h-2zM1036 367h2v1h-2zM1038 368h2v1h-2zM1040 369h2v1h-2zM1042 370h1v1h-1zM1043 371h2v1h-2zM1045 372h2v1h-2zM1047 373h2v1h-2zM1049 374h1v1h-1zM1050 375h2v1h-2zM1052 376h2v1h-2zM1054 377h2v1h-2zM1056 378h1v1h-1z"/>
<path fill="#6495ED" shape-rendering="crispEdges" d="M5 531h1v1h-1zM6 531h1v1h-1zM7 531h1v1h-1zM8 532h1v1h-1zM9 532h1v1h-1zM10 532h1v1h-1zM11 531h1v1h-1zM12 531h1v1h-1zM13 529h1v2h-1zM14 526h1v3h-1zM15 523h1v3h-1zM16 520h1v3h-1zM17 514h1v6h-1zM18 506h1v8h-1zM19 498h1v8h-1zM20 490h1v8h-1zM21 485h1v5h-1zM22 485h1v1h-1zM23 485h1v1h-1zM24 486h1v1h-1zM25 486h1v1h-1zM26 487h1v1h-1zM27 487h1v1h-1zM28 488h1v1h-1zM29 489h1v2h-1zM30 491h1v2h-1zM31 493h1v2h-1zM32 495h1v2h-1zM33 497h1v1h-1zM34 498h1v1h-1zM35 498h1v1h-1zM36 499h1v1h-1zM37 500h1v1h-1zM38 499h1v1h-1zM39 497h1v2h-1zM40 496h1v1h-1zM41 495h1v1h-1zM42 495h1v1h-1zM43 495h1v1h-1zM44 494h1v1h-1zM45 494h1v1h-1zM46 493h1v1h-1zM47 493h1v1h-1zM48 492h1v1h-1zM49 491h1v1h-1zM50 491h1v1h-1zM51 491h1v1h-1zM52 492h1v1h-1zM53 492h1v1h-1zM54 492h1v1h-1zM55 492h1v1h-1zM56 492h1v1h-1zM57 492h1v1h-1zM58 493h1v1h-1zM59 493h1v1h-1zM60 493h1v1h-1zM61 493h1v1h-1zM62 494h1v2h-1zM63 496h1v2h-1zM64 498h1v2h-1zM65 500h1v1h-1zM66 501h1v1h-1zM67 502h1v2h-1zM68 504h1v1h-1zM69 505h1v1h-1zM70 504h1v1h-1zM71 504h1v1h-1zM72 503h1v1h-1zM73 500h1v3h-1zM74 496h1v4h-1zM75 491h1v5h-1zM76 487h1v4h-1zM77 484h1v3h-1zM78 484h1v1h-1zM79 483h1v1h-1zM80 483h1v1h-1zM81 482h1v1h-1zM82 482h1v1h-1zM83 482h1v1h-1zM84 482h1v1h-1zM85 482h1v1h-1zM86 482h1v1h-1zM87 482h1v1h-1zM88 482h1v1h-1zM89 482h1v1h-1zM90 482h1v1h-1zM91 483h1v1h-1zM92 483h1v1h-1zM93 484h1v1h-1zM94 484h1v1h-1zM95 485h1v1h-1zM96 485h1v1h-1zM97 486h1v2h-1zM98 488h1v3h-1zM99 491h1v3h-1zM100 494h1v3h-1zM101 497h1v2h-1zM102 496h1v2h-1zM103 494h1v2h-1zM104 492h1v2h-1zM105 491h1v1h-1zM106 491h1v1h-1zM107 490h1v1h-1zM108 490h1v1h-1zM109 489h1v1h-1zM110 488h1v2h-1zM111 485h1v3h-1zM112 483h1v2h-1zM113 481h1v2h-1zM114 480h1v1h-1zM115 480h1v1h-1zM116 479h1v1h-1zM117 478h1v1h-1zM118 476h1v2h-1zM119 475h1v1h-1zM120 473h1v2h-1zM121 472h1v1h-1zM122 473h1v1h-1zM123 474h1v1h-1zM124 475h1v1h-1zM125 476h1v1h-1zM126 477h1v2h-1zM127 479h1v2h-1zM128 481h1v2h-1zM129 483h1v3h-1zM130 486h1v3h-1zM131 489h1v4h-1zM132 493h1v3h-1zM133 496h1v3h-1zM134 499h1v2h-1zM135 501h1v3h-1zM136 504h1v2h-1zM137 506h1v2h-1zM138 508h1v1h-1zM139 509h1v1h-1zM140 510h1v1h-1zM141 511h1v1h-1zM142 512h1v2h-1zM143 514h1v3h-1zM144 517h1v3h-1zM145 520h1v2h-1zM146 518h1v2h-1zM147 515h1v3h-1zM148 513h1v2h-1zM149 511h1v2h-1zM150 510h1v1h-1zM151 509h1v1h-1zM152 508h1v1h-1zM153 507h1v1h-1zM154 506h1v1h-1zM155 505h1v1h-1zM156 504h1v1h-1zM157 503h1v2h-1zM158 505h1v2h-1zM159 507h1v2h-1zM160 509h1v2h-1zM161 511h1v3h-1zM162 514h1v2h-1zM163 516h1v2h-1zM164 518h1v2h-1zM165 520h1v3h-1zM166 523h1v2h-1zM167 525h1v2h-1zM168 527h1v2h-1zM169 529h1v2h-1zM170 530h1v1h-1zM171 531h1v1h-1zM172 531h1v1h-1zM173 532h1v1h-1zM174 532h1v1h-1zM175 533h1v1h-1zM176 533h1v1h-1zM177 534h1v1h-1zM178 534h1v1h-1zM179 534h1v1h-1zM180 535h1v1h-1zM181 535h1v1h-1zM182 534h1v1h-1zM183 533h1v1h-1zM184 532h1v1h-1zM185 531h1v1h-1zM186 530h1v1h-1zM187 529h1v1h-1zM188 528h1v1h-1zM189 526h1v2h-1zM190 522h1v4h-1zM191 519h1v3h-1zM192 515h1v4h-1zM193 511h1v4h-1zM194 507h1v4h-1zM195 503h1v4h-1zM196 499h1v4h-1zM197 496h1v3h-1zM198 492h1v4h-1zM199 489h1v3h-1zM200 485h1v4h-1zM201 483h1v2h-1zM202 483h1v1h-1zM203 483h1v1h-1zM204 483h1v2h-1zM205 485h1v2h-1zM206 487h1v2h-1zM207 489h1v2h-1zM208 491h1v3h-1zM209 494h1v4h-1zM210 498h1v3h-1zM211 501h1v3h-1zM212 504h1v2h-1zM213 506h1v2h-1zM214 508h1v3h-1zM215 511h1v2h-1zM216 513h1v2h-1zM217 515h1v2h-1zM218 516h1v1h-1zM219 515h1v1h-1zM220 515h1v1h-1zM221 514h1v1h-1zM222 513h1v1h-1zM223 512h1v1h-1zM224 511h1v1h-1zM225 510h1v1h-1zM226 511h1v1h-1zM227 512h1v2h-1zM228 514h1v1h-1zM229 515h1v1h-1zM230 515h1v1h-1zM231 515h1v1h-1zM232 514h1v1h-1zM233 514h1v1h-1zM234 514h1v1h-1zM235 513h1v1h-1zM236 513h1v1h-1zM237 512h1v1h-1zM238 510h1v2h-1zM239 509h1v1h-1zM240 507h1v2h-1zM241 506h1v1h-1zM242 507h1v1h-1zM243 508h1v2h-1zM244 510h1v1h-1zM245 511h1v1h-1zM246 512h1v1h-1zM247 512h1v1h-1zM248 513h1v1h-1zM249 513h1v2h-1zM250 511h1v2h-1zM251 509h1v2h-1zM252 507h1v2h-1zM253 503h1v4h-1zM254 499h1v4h-1zM255 495h1v4h-1zM256 491h1v4h-1zM257 488h1v3h-1zM258 486h1v2h-1zM259 484h1v2h-1zM260 482h1v2h-1zM261 481h1v2h-1zM262 483h1v2h-1zM263 485h1v2h-1zM264 487h1v2h-1zM265 489h1v2h-1zM266 491h1v4h-1zM267 495h1v3h-1zM268 498h1v4h-1zM269 502h1v2h-1zM270 500h1v2h-1zM271 497h1v3h-1zM272 495h1v2h-1zM273 493h1v2h-1zM274 493h1v1h-1zM275 492h1v1h-1zM276 492h1v1h-1zM277 491h1v2h-1zM278 493h1v2h-1zM279 495h1v2h-1zM280 497h1v2h-1zM281 499h1v2h-1zM282 501h1v4h-1zM283 505h1v4h-1zM284 509h1v4h-1zM285 513h1v2h-1zM286 514h1v1h-1zM287 515h1v1h-1zM288 515h1v1h-1zM289 515h1v2h-1zM290 513h1v2h-1zM291 511h1v2h-1zM292 509h1v2h-1zM293 507h1v2h-1zM294 507h1v1h-1zM295 506h1v1h-1zM296 506h1v1h-1zM297 505h1v1h-1zM298 503h1v2h-1zM299 501h1v2h-1zM300 499h1v2h-1zM301 498h1v1h-1zM302 496h1v2h-1zM303 494h1v2h-1zM304 492h1v2h-1zM305 490h1v2h-1zM306 488h1v2h-1zM307 486h1v2h-1zM308 484h1v2h-1zM309 483h1v1h-1zM310 483h1v1h-1zM311 482h1v1h-1zM312 482h1v1h-1zM313 481h1v1h-1zM314 479h1v2h-1zM315 478h1v1h-1zM316 476h1v2h-1zM317 475h1v1h-1zM318 475h1v1h-1zM319 475h1v1h-1zM320 476h1v1h-1zM321 476h1v1h-1zM322 477h1v1h-1zM323 478h1v1h-1zM324 479h1v1h-1zM325 480h1v1h-1zM326 481h1v1h-1zM327 482h1v2h-1zM328 484h1v1h-1zM329 485h1v1h-1zM330 485h1v1h-1zM331 484h1v1h-1zM332 484h1v1h-1zM333 483h1v1h-1zM334 483h1v1h-1zM335 483h1v1h-1zM336 483h1v1h-1zM337 484h1v1h-1zM338 484h1v1h-1zM339 484h1v1h-1zM340 484h1v2h-1zM341 486h1v2h-1zM342 488h1v2h-1zM343 490h1v2h-1zM344 492h1v1h-1zM345 493h1v2h-1zM346 495h1v2h-1zM347 497h1v2h-1zM348 499h1v1h-1zM349 500h1v1h-1zM350 501h1v2h-1zM351 503h1v1h-1zM352 504h1v2h-1zM353 506h1v2h-1zM354 508h1v2h-1zM355 510h1v2h-1zM356 512h1v2h-1zM357 514h1v2h-1zM358 516h1v2h-1zM359 518h1v2h-1zM360 520h1v1h-1zM361 521h1v2h-1zM362 523h1v1h-1zM363 524h1v1h-1zM364 525h1v2h-1zM365 527h1v1h-1zM366 527h1v1h-1zM367 528h1v1h-1zM368 528h1v1h-1zM369 529h1v1h-1zM370 528h1v1h-1zM371 528h1v1h-1zM372 527h1v1h-1zM373 526h1v1h-1zM374 527h1v1h-1zM375 528h1v1h-1zM376 529h1v1h-1zM377 529h1v1h-1zM378 529h1v1h-1zM379 530h1v1h-1zM380 530h1v1h-1zM381 530h1v1h-1zM382 529h1v1h-1zM383 529h1v1h-1zM384 528h1v1h-1zM385 525h1v3h-1zM386 519h1v6h-1zM387 513h1v6h-1zM388 507h1v6h-1zM389 503h1v4h-1zM390 501h1v2h-1zM391 499h1v2h-1zM392 497h1v2h-1zM393 495h1v2h-1zM394 494h1v1h-1zM395 493h1v1h-1zM396 492h1v1h-1zM397 491h1v1h-1zM398 492h1v1h-1zM399 493h1v1h-1zM400 494h1v1h-1zM401 495h1v1h-1zM402 494h1v1h-1zM403 494h1v1h-1zM404 493h1v1h-1zM405 492h1v1h-1zM406 492h1v1h-1zM407 492h1v1h-1zM408 491h1v1h-1zM409 491h1v1h-1zM410 492h1v1h-1zM411 493h1v1h-1zM412 494h1v1h-1zM413 495h1v3h-1zM414 498h1v5h-1zM415 503h1v6h-1zM416 509h1v5h-1zM417 514h1v3h-1zM418 517h1v2h-1zM419 519h1v1h-1zM420 520h1v2h-1zM421 522h1v1h-1zM422 521h1v1h-1zM423 520h1v1h-1zM424 519h1v1h-1zM425 518h1v1h-1zM426 518h1v1h-1zM427 518h1v1h-1zM428 518h1v1h-1zM429 517h1v2h-1zM430 514h1v3h-1zM431 510h1v4h-1zM432 507h1v3h-1zM433 504h1v3h-1zM434 501h1v3h-1zM435 497h1v4h-1zM436 494h1v3h-1zM437 492h1v3h-1zM438 495h1v6h-1zM439 501h1v6h-1zM440 507h1v6h-1zM441 513h1v4h-1zM442 517h1v2h-1zM443 519h1v2h-1zM444 521h1v2h-1zM445 523h1v2h-1zM446 525h1v1h-1zM447 525h1v1h-1zM448 526h1v1h-1zM449 526h1v1h-1zM450 527h1v1h-1zM451 526h1v1h-1zM452 526h1v1h-1zM453 525h1v1h-1zM454 524h1v1h-1zM455 523h1v1h-1zM456 522h1v1h-1zM457 521h1v1h-1zM458 521h1v1h-1zM459 522h1v1h-1zM460 522h1v1h-1zM461 523h1v1h-1zM462 523h1v1h-1zM463 522h1v1h-1zM464 522h1v1h-1zM465 521h1v2h-1zM466 523h1v3h-1zM467 526h1v2h-1zM468 528h1v3h-1zM469 531h1v2h-1zM470 532h1v1h-1zM471 532h1v1h-1zM472 531h1v1h-1zM473 531h1v1h-1zM474 532h1v1h-1zM475 532h1v1h-1zM476 533h1v1h-1zM477 534h1v1h-1zM478 534h1v1h-1zM479 535h1v1h-1zM480 535h1v1h-1zM481 536h1v1h-1zM482 536h1v1h-1zM483 536h1v1h-1zM484 537h1v1h-1zM485 537h1v1h-1zM486 535h1v2h-1zM487 534h1v1h-1zM488 532h1v2h-1zM489 530h1v2h-1zM490 528h1v2h-1zM491 525h1v3h-1zM492 523h1v2h-1zM493 520h1v3h-1zM494 518h1v2h-1zM495 516h1v2h-1zM496 514h1v2h-1zM497 511h1v3h-1zM498 508h1v3h-1zM499 505h1v3h-1zM500 502h1v3h-1zM501 500h1v2h-1zM502 501h1v1h-1zM503 501h1v1h-1zM504 502h1v1h-1zM505 502h1v2h-1zM506 500h1v2h-1zM507 498h1v2h-1zM508 496h1v2h-1zM509 495h1v1h-1zM510 495h1v1h-1zM511 494h1v1h-1zM512 494h1v1h-1zM513 492h1v2h-1zM514 489h1v3h-1zM515 486h1v3h-1zM516 483h1v3h-1zM517 481h1v2h-1zM518 481h1v1h-1zM519 480h1v1h-1zM520 480h1v1h-1zM521 479h1v1h-1zM522 480h1v2h-1zM523 482h1v2h-1zM524 484h1v2h-1zM525 486h1v2h-1zM526 488h1v3h-1zM527 491h1v3h-1zM528 494h1v3h-1zM529 497h1v3h-1zM530 500h1v3h-1zM531 503h1v4h-1zM532 507h1v3h-1zM533 510h1v2h-1zM534 509h1v2h-1zM535 507h1v2h-1zM536 505h1v2h-1zM537 504h1v1h-1zM538 504h1v1h-1zM539 503h1v1h-1zM540 503h1v1h-1zM541 502h1v1h-1zM542 502h1v1h-1zM543 503h1v1h-1zM544 503h1v1h-1zM545 504h1v2h-1zM546 506h1v2h-1zM547 508h1v3h-1zM548 511h1v2h-1zM549 513h1v2h-1zM550 511h1v2h-1zM551 509h1v2h-1zM552 507h1v2h-1zM553 506h1v1h-1zM554 506h1v1h-1zM555 506h1v1h-1zM556 506h1v1h-1zM557 506h1v1h-1zM558 505h1v1h-1zM559 505h1v1h-1zM560 504h1v1h-1zM561 503h1v2h-1zM562 505h1v2h-1zM563 507h1v3h-1zM564 510h1v2h-1zM565 512h1v2h-1zM566 513h1v1h-1zM567 513h1v1h-1zM568 513h1v1h-1zM569 513h1v1h-1zM570 514h1v1h-1zM571 514h1v1h-1zM572 515h1v1h-1zM573 516h1v1h-1zM574 516h1v1h-1zM575 517h1v1h-1zM576 517h1v1h-1zM577 518h1v1h-1zM578 519h1v1h-1zM579 520h1v2h-1zM580 522h1v1h-1zM581 523h1v1h-1zM582 523h1v1h-1zM583 524h1v1h-1zM584 524h1v1h-1zM585 525h1v1h-1zM586 526h1v2h-1zM587 528h1v1h-1zM588 529h1v2h-1zM589 531h1v1h-1zM590 529h1v2h-1zM591 528h1v1h-1zM592 526h1v2h-1zM593 525h1v1h-1zM594 523h1v2h-1zM595 522h1v1h-1zM596 520h1v2h-1zM597 519h1v1h-1zM598 519h1v1h-1zM599 519h1v1h-1zM600 520h1v1h-1zM601 520h1v2h-1zM602 522h1v2h-1zM603 524h1v2h-1zM604 526h1v2h-1zM605 528h1v1h-1zM606 526h1v2h-1zM607 525h1v1h-1zM608 523h1v2h-1zM609 521h1v2h-1zM610 519h1v2h-1zM611 517h1v2h-1zM612 515h1v2h-1zM613 511h1v4h-1zM614 507h1v4h-1zM615 503h1v4h-1zM616 499h1v4h-1zM617 496h1v3h-1zM618 494h1v2h-1zM619 492h1v2h-1zM620 490h1v2h-1zM621 488h1v2h-1zM622 486h1v2h-1zM623 484h1v2h-1zM624 483h1v1h-1zM625 483h1v1h-1zM626 483h1v1h-1zM627 483h1v1h-1zM628 483h1v1h-1zM629 483h1v1h-1zM630 483h1v1h-1zM631 482h1v1h-1zM632 482h1v1h-1zM633 483h1v1h-1zM634 484h1v1h-1zM635 485h1v1h-1zM636 486h1v1h-1zM637 487h1v2h-1zM638 489h1v1h-1zM639 490h1v2h-1zM640 492h1v3h-1zM641 495h1v4h-1zM642 499h1v4h-1zM643 503h1v4h-1zM644 507h1v4h-1zM645 511h1v2h-1zM646 513h1v1h-1zM647 513h1v1h-1zM648 514h1v1h-1zM649 514h1v2h-1zM650 510h1v4h-1zM651 507h1v3h-1zM652 503h1v4h-1zM653 499h1v4h-1zM654 494h1v5h-1zM655 489h1v5h-1zM656 485h1v4h-1zM657 483h1v2h-1zM658 481h1v2h-1zM659 479h1v2h-1zM660 477h1v2h-1zM661 476h1v1h-1zM662 476h1v1h-1zM663 476h1v1h-1zM664 476h1v1h-1zM665 476h1v1h-1zM666 477h1v2h-1zM667 479h1v2h-1zM668 481h1v1h-1zM669 482h1v2h-1zM670 484h1v2h-1zM671 486h1v2h-1zM672 488h1v2h-1zM673 490h1v2h-1zM674 492h1v4h-1zM675 496h1v4h-1zM676 500h1v4h-1zM677 504h1v4h-1zM678 508h1v5h-1zM679 513h1v6h-1zM680 519h1v5h-1zM681 524h1v3h-1zM682 526h1v1h-1zM683 527h1v1h-1zM684 527h1v1h-1zM685 528h1v1h-1zM686 529h1v1h-1zM687 530h1v2h-1zM688 532h1v1h-1zM689 533h1v1h-1zM690 534h1v1h-1zM691 534h1v1h-1zM692 535h1v1h-1zM693 536h1v1h-1zM694 537h1v2h-1zM695 539h1v1h-1zM696 540h1v2h-1zM697 542h1v1h-1zM698 540h1v2h-1zM699 539h1v1h-1zM700 537h1v2h-1zM701 536h1v1h-1zM702 536h1v1h-1zM703 535h1v1h-1zM704 535h1v1h-1zM705 534h1v1h-1zM706 533h1v1h-1zM707 531h1v2h-1zM708 530h1v1h-1zM709 529h1v1h-1zM710 529h1v1h-1zM711 529h1v1h-1zM712 528h1v1h-1zM713 527h1v2h-1zM714 525h1v2h-1zM715 523h1v2h-1zM716 521h1v2h-1zM717 519h1v2h-1zM718 515h1v4h-1zM719 512h1v3h-1zM720 508h1v4h-1zM721 504h1v4h-1zM722 500h1v4h-1zM723 496h1v4h-1zM724 492h1v4h-1zM725 489h1v3h-1zM726 487h1v2h-1zM727 485h1v2h-1zM728 483h1v2h-1zM729 482h1v1h-1zM730 483h1v1h-1zM731 483h1v1h-1zM732 484h1v1h-1zM733 485h1v2h-1zM734 487h1v3h-1zM735 490h1v4h-1zM736 494h1v3h-1zM737 497h1v3h-1zM738 500h1v4h-1zM739 504h1v4h-1zM740 508h1v4h-1zM741 512h1v3h-1zM742 515h1v2h-1zM743 517h1v2h-1zM744 519h1v2h-1zM745 521h1v2h-1zM746 523h1v1h-1zM747 523h1v1h-1zM748 524h1v1h-1zM749 525h1v1h-1zM750 524h1v1h-1zM751 523h1v1h-1zM752 522h1v1h-1zM753 521h1v1h-1zM754 520h1v1h-1zM755 520h1v1h-1zM756 519h1v1h-1zM757 518h1v1h-1zM758 517h1v1h-1zM759 517h1v1h-1zM760 516h1v1h-1zM761 515h1v1h-1zM762 515h1v1h-1zM763 515h1v1h-1zM764 515h1v1h-1zM765 515h1v1h-1zM766 514h1v1h-1zM767 513h1v1h-1zM768 512h1v1h-1zM769 511h1v1h-1zM770 511h1v1h-1zM771 511h1v1h-1zM772 512h1v1h-1zM773 512h1v1h-1zM774 512h1v2h-1zM775 514h1v2h-1zM776 516h1v2h-1zM777 518h1v2h-1zM778 519h1v1h-1zM779 518h1v1h-1zM780 518h1v1h-1zM781 516h1v2h-1zM782 513h1v3h-1zM783 511h1v2h-1zM784 508h1v3h-1zM785 505h1v3h-1zM786 502h1v3h-1zM787 498h1v4h-1zM788 495h1v3h-1zM789 492h1v3h-1zM790 490h1v2h-1zM791 487h1v3h-1zM792 485h1v2h-1zM793 483h1v2h-1zM794 482h1v1h-1zM795 482h1v1h-1zM796 481h1v1h-1zM797 480h1v1h-1zM798 481h1v1h-1zM799 482h1v1h-1zM800 483h1v1h-1zM801 484h1v1h-1zM802 485h1v2h-1zM803 487h1v1h-1zM804 488h1v2h-1zM805 490h1v3h-1zM806 493h1v4h-1zM807 497h1v4h-1zM808 501h1v4h-1zM809 505h1v3h-1zM810 508h1v4h-1zM811 512h1v4h-1zM812 516h1v4h-1zM813 520h1v4h-1zM814 524h1v4h-1zM815 528h1v5h-1zM816 533h1v4h-1zM817 537h1v3h-1zM818 536h1v2h-1zM819 533h1v3h-1zM820 531h1v2h-1zM821 528h1v3h-1zM822 526h1v2h-1zM823 523h1v3h-1zM824 521h1v2h-1zM825 517h1v4h-1zM826 513h1v4h-1zM827 509h1v4h-1zM828 505h1v4h-1zM829 503h1v2h-1zM830 502h1v1h-1zM831 500h1v2h-1zM832 499h1v1h-1zM833 498h1v1h-1zM834 498h1v1h-1zM835 499h1v1h-1zM836 499h1v1h-1zM837 500h1v1h-1zM838 501h1v2h-1zM839 503h1v2h-1zM840 505h1v2h-1zM841 507h1v3h-1zM842 510h1v4h-1zM843 514h1v4h-1zM844 518h1v4h-1zM845 522h1v4h-1zM846 526h1v2h-1zM847 528h1v3h-1zM848 531h1v2h-1zM849 533h1v2h-1zM850 535h1v1h-1zM851 535h1v1h-1zM852 536h1v1h-1zM853 537h1v1h-1zM854 537h1v1h-1zM855 536h1v1h-1zM856 536h1v1h-1zM857 535h1v1h-1zM858 535h1v1h-1zM859 535h1v1h-1zM860 535h1v1h-1zM861 535h1v1h-1zM862 535h1v1h-1zM863 535h1v1h-1zM864 535h1v1h-1zM865 535h1v1h-1zM866 535h1v1h-1zM867 534h1v1h-1zM868 534h1v1h-1zM869 533h1v1h-1zM870 531h1v2h-1zM871 528h1v3h-1zM872 525h1v3h-1zM873 522h1v3h-1zM874 520h1v2h-1zM875 518h1v2h-1zM876 516h1v2h-1zM877 513h1v3h-1zM878 511h1v2h-1zM879 509h1v2h-1zM880 507h1v2h-1zM881 505h1v2h-1zM882 501h1v4h-1zM883 498h1v3h-1zM884 494h1v4h-1zM885 491h1v3h-1zM886 488h1v3h-1zM887 486h1v2h-1zM888 483h1v3h-1zM889 481h1v2h-1zM890 479h1v2h-1zM891 477h1v2h-1zM892 475h1v2h-1zM893 474h1v1h-1zM894 475h1v1h-1zM895 475h1v1h-1zM896 476h1v1h-1zM897 477h1v1h-1zM898 478h1v2h-1zM899 480h1v2h-1zM900 482h1v2h-1zM901 484h1v3h-1zM902 487h1v5h-1zM903 492h1v4h-1zM904 496h1v5h-1zM905 501h1v4h-1zM906 505h1v4h-1zM907 509h1v4h-1zM908 513h1v4h-1zM909 517h1v2h-1zM910 519h1v1h-1zM911 519h1v1h-1zM912 520h1v1h-1zM913 520h1v2h-1zM914 518h1v2h-1zM915 516h1v2h-1zM916 514h1v2h-1zM917 512h1v2h-1zM918 510h1v2h-1zM919 507h1v3h-1zM920 505h1v2h-1zM921 502h1v3h-1zM922 500h1v2h-1zM923 498h1v2h-1zM924 496h1v2h-1zM925 494h1v2h-1zM926 491h1v3h-1zM927 489h1v2h-1zM928 486h1v3h-1zM929 484h1v2h-1zM930 484h1v1h-1zM931 483h1v1h-1zM932 483h1v1h-1zM933 482h1v1h-1zM934 481h1v1h-1zM935 480h1v1h-1zM936 479h1v1h-1zM937 478h1v1h-1zM938 478h1v1h-1zM939 478h1v1h-1zM940 479h1v1h-1zM941 479h1v2h-1zM942 481h1v3h-1zM943 484h1v2h-1zM944 486h1v3h-1zM945 489h1v3h-1zM946 492h1v4h-1zM947 496h1v4h-1zM948 500h1v4h-1zM949 504h1v4h-1zM950 508h1v5h-1zM951 513h1v5h-1zM952 518h1v5h-1zM953 523h1v3h-1zM954 526h1v1h-1zM955 526h1v1h-1zM956 527h1v1h-1zM957 528h1v1h-1zM958 526h1v2h-1zM959 525h1v1h-1zM960 523h1v2h-1zM961 521h1v2h-1zM962 517h1v4h-1zM963 513h1v4h-1zM964 509h1v4h-1zM965 506h1v3h-1zM966 504h1v2h-1zM967 501h1v3h-1zM968 499h1v2h-1zM969 497h1v2h-1zM970 498h1v2h-1zM971 500h1v2h-1zM972 502h1v2h-1zM973 504h1v2h-1zM974 506h1v4h-1zM975 510h1v4h-1zM976 514h1v4h-1zM977 518h1v3h-1zM978 521h1v3h-1zM979 524h1v3h-1zM980 527h1v3h-1zM981 530h1v2h-1zM982 530h1v1h-1zM983 529h1v1h-1zM984 528h1v1h-1zM985 527h1v1h-1zM986 526h1v1h-1zM987 524h1v2h-1zM988 523h1v1h-1zM989 522h1v1h-1zM990 520h1v2h-1zM991 518h1v2h-1zM992 517h1v1h-1z"/>
<path fill="#FF0000" shape-rendering="crispEdges" d="M5 526h1v1h-1zM6 527h1v1h-1zM7 528h1v2h-1zM8 530h1v1h-1zM9 531h1v1h-1zM10 531h1v1h-1zM11 531h1v1h-1zM12 531h1v1h-1zM13 531h1v1h-1zM14 530h1v1h-1zM15 528h1v2h-1zM16 527h1v1h-1zM17 524h1v3h-1zM18 519h1v5h-1zM19 515h1v4h-1zM20 511h1v4h-1zM21 508h1v3h-1zM22 505h1v3h-1zM23 502h1v3h-1zM24 499h1v3h-1zM25 496h1v3h-1zM26 494h1v2h-1zM27 491h1v3h-1zM28 489h1v2h-1zM29 487h1v2h-1zM30 488h1v1h-1zM31 489h1v2h-1zM32 491h1v1h-1zM33 492h1v1h-1zM34 493h1v2h-1zM35 495h1v1h-1zM36 496h1v1h-1zM37 496h1v1h-1zM38 496h1v1h-1zM39 497h1v1h-1zM40 497h1v1h-1zM41 497h1v1h-1zM42 497h1v1h-1zM43 497h1v1h-1zM44 496h1v1h-1zM45 496h1v1h-1zM46 495h1v1h-1zM47 495h1v1h-1zM48 494h1v1h-1zM49 493h1v1h-1zM50 493h1v1h-1zM51 493h1v1h-1zM52 492h1v1h-1zM53 492h1v1h-1zM54 492h1v1h-1zM55 492h1v1h-1zM56 491h1v1h-1zM57 491h1v1h-1zM58 491h1v1h-1zM59 491h1v1h-1zM60 492h1v1h-1zM61 492h1v1h-1zM62 492h1v1h-1zM63 493h1v1h-1zM64 494h1v1h-1zM65 495h1v1h-1zM66 496h1v1h-1zM67 497h1v2h-1zM68 499h1v1h-1zM69 500h1v1h-1zM70 501h1v1h-1zM71 501h1v1h-1zM72 502h1v1h-1zM73 503h1v1h-1zM74 501h1v2h-1zM75 500h1v1h-1zM76 498h1v2h-1zM77 497h1v1h-1zM78 495h1v2h-1zM79 493h1v2h-1zM80 492h1v1h-1zM81 490h1v2h-1zM82 488h1v2h-1zM83 486h1v2h-1zM84 484h1v2h-1zM85 482h1v2h-1zM86 482h1v1h-1zM87 482h1v1h-1zM88 482h1v1h-1zM89 482h1v1h-1zM90 482h1v1h-1zM91 482h1v1h-1zM92 482h1v1h-1zM93 482h1v1h-1zM94 482h1v1h-1zM95 483h1v1h-1zM96 483h1v1h-1zM97 484h1v1h-1zM98 485h1v1h-1zM99 486h1v2h-1zM100 488h1v1h-1zM101 489h1v1h-1zM102 490h1v1h-1zM103 490h1v1h-1zM104 491h1v1h-1zM105 492h1v1h-1zM106 492h1v1h-1zM107 492h1v1h-1zM108 493h1v1h-1zM109 493h1v1h-1zM110 492h1v1h-1zM111 490h1v2h-1zM112 489h1v1h-1zM113 488h1v1h-1zM114 487h1v1h-1zM115 485h1v2h-1zM116 484h1v1h-1zM117 483h1v1h-1zM118 481h1v2h-1zM119 480h1v1h-1zM120 478h1v2h-1zM121 477h1v1h-1zM122 477h1v1h-1zM123 476h1v1h-1zM124 476h1v1h-1zM125 475h1v1h-1zM126 475h1v1h-1zM127 476h1v1h-1zM128 476h1v1h-1zM129 477h1v2h-1zM130 479h1v2h-1zM131 481h1v2h-1zM132 483h1v2h-1zM133 485h1v2h-1zM134 487h1v3h-1zM135 490h1v2h-1zM136 492h1v3h-1zM137 495h1v2h-1zM138 497h1v2h-1zM139 499h1v2h-1zM140 501h1v2h-1zM141 503h1v2h-1zM142 505h1v2h-1zM143 507h1v3h-1zM144 510h1v2h-1zM145 512h1v2h-1zM146 513h1v1h-1zM147 513h1v1h-1zM148 514h1v1h-1zM149 514h1v1h-1zM150 514h1v1h-1zM151 514h1v1h-1zM152 513h1v1h-1zM153 513h1v1h-1zM154 512h1v1h-1zM155 510h1v2h-1zM156 509h1v1h-1zM157 508h1v1h-1zM158 507h1v1h-1zM159 507h1v1h-1zM160 508h1v1h-1zM161 508h1v1h-1zM162 509h1v1h-1zM163 510h1v1h-1zM164 511h1v1h-1zM165 512h1v2h-1zM166 514h1v2h-1zM167 516h1v2h-1zM168 518h1v2h-1zM169 520h1v2h-1zM170 522h1v2h-1zM171 524h1v2h-1zM172 526h1v2h-1zM173 528h1v1h-1zM174 529h1v1h-1zM175 530h1v1h-1zM176 531h1v1h-1zM177 532h1v1h-1zM178 532h1v1h-1zM179 533h1v1h-1zM180 533h1v1h-1zM181 534h1v1h-1zM182 534h1v1h-1zM183 534h1v1h-1zM184 534h1v1h-1zM185 534h1v1h-1zM186 533h1v1h-1zM187 533h1v1h-1zM188 532h1v1h-1zM189 531h1v1h-1zM190 529h1v2h-1zM191 528h1v1h-1zM192 526h1v2h-1zM193 524h1v2h-1zM194 521h1v3h-1zM195 517h1v4h-1zM196 514h1v3h-1zM197 510h1v4h-1zM198 506h1v4h-1zM199 502h1v4h-1zM200 498h1v4h-1zM201 494h1v4h-1zM202 492h1v2h-1zM203 490h1v2h-1zM204 488h1v2h-1zM205 487h1v1h-1zM206 487h1v1h-1zM207 487h1v1h-1zM208 487h1v1h-1zM209 487h1v2h-1zM210 489h1v2h-1zM211 491h1v3h-1zM212 494h1v2h-1zM213 496h1v3h-1zM214 499h1v2h-1zM215 501h1v2h-1zM216 503h1v2h-1zM217 505h1v2h-1zM218 507h1v2h-1zM219 509h1v2h-1zM220 511h1v2h-1zM221 513h1v1h-1zM222 513h1v1h-1zM223 513h1v1h-1zM224 514h1v1h-1zM225 514h1v1h-1zM226 514h1v1h-1zM227 514h1v1h-1zM228 514h1v1h-1zM229 514h1v1h-1zM230 514h1v1h-1zM231 514h1v1h-1zM232 513h1v1h-1zM233 513h1v1h-1zM234 513h1v1h-1zM235 513h1v1h-1zM236 514h1v1h-1zM237 514h1v1h-1zM238 513h1v1h-1zM239 513h1v1h-1zM240 512h1v1h-1zM241 511h1v1h-1zM242 511h1v1h-1zM243 511h1v1h-1zM244 510h1v1h-1zM245 510h1v1h-1zM246 510h1v1h-1zM247 510h1v1h-1zM248 510h1v1h-1zM249 510h1v1h-1zM250 510h1v1h-1zM251 510h1v1h-1zM252 510h1v1h-1zM253 510h1v1h-1zM254 508h1v2h-1zM255 506h1v2h-1zM256 504h1v2h-1zM257 502h1v2h-1zM258 500h1v2h-1zM259 498h1v2h-1zM260 496h1v2h-1zM261 493h1v3h-1zM262 491h1v2h-1zM263 489h1v2h-1zM264 487h1v2h-1zM265 486h1v1h-1zM266 487h1v1h-1zM267 488h1v2h-1zM268 490h1v1h-1zM269 491h1v1h-1zM270 492h1v1h-1zM271 493h1v1h-1zM272 494h1v1h-1zM273 495h1v1h-1zM274 495h1v1h-1zM275 495h1v1h-1zM276 495h1v1h-1zM277 495h1v1h-1zM278 495h1v1h-1zM279 495h1v1h-1zM280 495h1v1h-1zM281 495h1v1h-1zM282 496h1v2h-1zM283 498h1v2h-1zM284 500h1v2h-1zM285 502h1v2h-1zM286 504h1v2h-1zM287 506h1v2h-1zM288 508h1v2h-1zM289 510h1v2h-1zM290 511h1v1h-1zM291 512h1v1h-1zM292 512h1v1h-1zM293 513h1v1h-1zM294 512h1v1h-1zM295 510h1v2h-1zM296 509h1v1h-1zM297 508h1v1h-1zM298 506h1v2h-1zM299 505h1v1h-1zM300 503h1v2h-1zM301 502h1v1h-1zM302 501h1v1h-1zM303 500h1v1h-1zM304 499h1v1h-1zM305 498h1v1h-1zM306 496h1v2h-1zM307 494h1v2h-1zM308 492h1v2h-1zM309 491h1v1h-1zM310 489h1v2h-1zM311 488h1v1h-1zM312 486h1v2h-1zM313 485h1v1h-1zM314 483h1v2h-1zM315 482h1v1h-1zM316 480h1v2h-1zM317 479h1v1h-1zM318 479h1v1h-1zM319 478h1v1h-1zM320 478h1v1h-1zM321 477h1v1h-1zM322 477h1v1h-1zM323 477h1v1h-1zM324 477h1v1h-1zM325 477h1v1h-1zM326 477h1v1h-1zM327 478h1v1h-1zM328 478h1v1h-1zM329 479h1v1h-1zM330 480h1v1h-1zM331 481h1v1h-1zM332 482h1v1h-1zM333 483h1v1h-1zM334 483h1v1h-1zM335 483h1v1h-1zM336 484h1v1h-1zM337 484h1v1h-1zM338 484h1v1h-1zM339 484h1v1h-1zM340 484h1v1h-1zM341 484h1v1h-1zM342 485h1v1h-1zM343 486h1v2h-1zM344 488h1v1h-1zM345 489h1v1h-1zM346 490h1v1h-1zM347 491h1v1h-1zM348 492h1v1h-1zM349 493h1v1h-1zM350 494h1v2h-1zM351 496h1v2h-1zM352 498h1v2h-1zM353 500h1v1h-1zM354 501h1v2h-1zM355 503h1v1h-1zM356 504h1v1h-1zM357 505h1v2h-1zM358 507h1v2h-1zM359 509h1v2h-1zM360 511h1v2h-1zM361 513h1v2h-1zM362 515h1v2h-1zM363 517h1v2h-1zM364 519h1v2h-1zM365 521h1v1h-1zM366 522h1v1h-1zM367 523h1v1h-1zM368 524h1v1h-1zM369 525h1v1h-1zM370 525h1v1h-1zM371 526h1v1h-1zM372 526h1v1h-1zM373 527h1v1h-1zM374 527h1v1h-1zM375 528h1v1h-1zM376 528h1v1h-1zM377 528h1v1h-1zM378 528h1v1h-1zM379 528h1v1h-1zM380 528h1v1h-1zM381 528h1v1h-1zM382 528h1v1h-1zM383 528h1v1h-1zM384 529h1v1h-1zM385 528h1v2h-1zM386 526h1v2h-1zM387 524h1v2h-1zM388 522h1v2h-1zM389 519h1v3h-1zM390 516h1v3h-1zM391 513h1v3h-1zM392 510h1v3h-1zM393 507h1v3h-1zM394 504h1v3h-1zM395 502h1v2h-1zM396 499h1v3h-1zM397 497h1v2h-1zM398 496h1v1h-1zM399 496h1v1h-1zM400 495h1v1h-1zM401 494h1v1h-1zM402 494h1v1h-1zM403 494h1v1h-1zM404 493h1v1h-1zM405 493h1v1h-1zM406 493h1v1h-1zM407 493h1v1h-1zM408 493h1v1h-1zM409 493h1v1h-1zM410 493h1v1h-1zM411 493h1v1h-1zM412 493h1v1h-1zM413 493h1v2h-1zM414 495h1v2h-1zM415 497h1v2h-1zM416 499h1v2h-1zM417 501h1v3h-1zM418 504h1v2h-1zM419 506h1v3h-1zM420 509h1v2h-1zM421 511h1v2h-1zM422 513h1v2h-1zM423 515h1v2h-1zM424 517h1v2h-1zM425 519h1v1h-1zM426 519h1v1h-1zM427 519h1v1h-1zM428 520h1v1h-1zM429 520h1v1h-1zM430 518h1v2h-1zM431 517h1v1h-1zM432 515h1v2h-1zM433 513h1v2h-1zM434 511h1v2h-1zM435 509h1v2h-1zM436 507h1v2h-1zM437 505h1v2h-1zM438 505h1v1h-1zM439 505h1v1h-1zM440 505h1v1h-1zM441 505h1v1h-1zM442 506h1v2h-1zM443 508h1v2h-1zM444 510h1v2h-1zM445 512h1v2h-1zM446 514h1v2h-1zM447 516h1v2h-1zM448 518h1v2h-1zM449 520h1v2h-1zM450 522h1v2h-1zM451 524h1v1h-1zM452 524h1v1h-1zM453 525h1v1h-1zM454 525h1v1h-1zM455 524h1v1h-1zM456 524h1v1h-1zM457 523h1v1h-1zM458 523h1v1h-1zM459 523h1v1h-1zM460 523h1v1h-1zM461 523h1v1h-1zM462 523h1v1h-1zM463 523h1v1h-1zM464 522h1v1h-1zM465 522h1v1h-1zM466 523h1v1h-1zM467 524h1v1h-1zM468 525h1v1h-1zM469 526h1v1h-1zM470 526h1v1h-1zM471 526h1v1h-1zM472 527h1v1h-1zM473 527h1v1h-1zM474 528h1v1h-1zM475 529h1v1h-1zM476 530h1v1h-1zM477 531h1v1h-1zM478 531h1v1h-1zM479 532h1v1h-1zM480 532h1v1h-1zM481 533h1v1h-1zM482 533h1v1h-1zM483 534h1v1h-1zM484 534h1v1h-1zM485 535h1v1h-1zM486 535h1v1h-1zM487 535h1v1h-1zM488 534h1v1h-1zM489 534h1v1h-1zM490 533h1v1h-1zM491 532h1v1h-1zM492 531h1v1h-1zM493 529h1v2h-1zM494 527h1v2h-1zM495 525h1v2h-1zM496 523h1v2h-1zM497 520h1v3h-1zM498 518h1v2h-1zM499 516h1v2h-1zM500 514h1v2h-1zM501 512h1v2h-1zM502 510h1v2h-1zM503 508h1v2h-1zM504 506h1v2h-1zM505 505h1v1h-1zM506 503h1v2h-1zM507 502h1v1h-1zM508 500h1v2h-1zM509 499h1v1h-1zM510 499h1v1h-1zM511 499h1v1h-1zM512 498h1v1h-1zM513 498h1v1h-1zM514 496h1v2h-1zM515 494h1v2h-1zM516 492h1v2h-1zM517 491h1v1h-1zM518 490h1v1h-1zM519 488h1v2h-1zM520 487h1v1h-1zM521 486h1v1h-1zM522 485h1v1h-1zM523 484h1v1h-1zM524 483h1v1h-1zM525 482h1v1h-1zM526 483h1v2h-1zM527 485h1v1h-1zM528 486h1v2h-1zM529 488h1v2h-1zM530 490h1v2h-1zM531 492h1v3h-1zM532 495h1v2h-1zM533 497h1v2h-1zM534 499h1v2h-1zM535 501h1v1h-1zM536 502h1v2h-1zM537 504h1v1h-1zM538 504h1v1h-1zM539 505h1v1h-1zM540 505h1v1h-1zM541 506h1v1h-1zM542 505h1v1h-1zM543 505h1v1h-1zM544 504h1v1h-1zM545 503h1v1h-1zM546 504h1v1h-1zM547 505h1v1h-1zM548 506h1v1h-1zM549 507h1v1h-1zM550 507h1v1h-1zM551 507h1v1h-1zM552 508h1v1h-1zM553 508h1v1h-1zM554 508h1v1h-1zM555 508h1v1h-1zM556 509h1v1h-1zM557 509h1v1h-1zM558 508h1v1h-1zM559 507h1v1h-1zM560 506h1v1h-1zM561 505h1v1h-1zM562 506h1v1h-1zM563 506h1v1h-1zM564 507h1v1h-1zM565 508h1v1h-1zM566 508h1v1h-1zM567 509h1v1h-1zM568 509h1v1h-1zM569 510h1v1h-1zM570 511h1v1h-1zM571 512h1v1h-1zM572 513h1v1h-1zM573 514h1v1h-1zM574 514h1v1h-1zM575 515h1v1h-1zM576 515h1v1h-1zM577 516h1v1h-1zM578 517h1v1h-1zM579 517h1v1h-1zM580 518h1v1h-1zM581 519h1v1h-1zM582 520h1v1h-1zM583 521h1v1h-1zM584 522h1v1h-1zM585 523h1v1h-1zM586 524h1v1h-1zM587 524h1v1h-1zM588 525h1v1h-1zM589 526h1v1h-1zM590 526h1v1h-1zM591 526h1v1h-1zM592 527h1v1h-1zM593 527h1v1h-1zM594 527h1v1h-1zM595 527h1v1h-1zM596 526h1v1h-1zM597 526h1v1h-1zM598 525h1v1h-1zM599 524h1v1h-1zM600 523h1v1h-1zM601 522h1v1h-1zM602 522h1v1h-1zM603 522h1v1h-1zM604 522h1v1h-1zM605 522h1v1h-1zM606 522h1v1h-1zM607 522h1v1h-1zM608 523h1v1h-1zM609 523h1v1h-1zM610 523h1v1h-1zM611 522h1v1h-1zM612 522h1v1h-1zM613 520h1v2h-1zM614 518h1v2h-1zM615 516h1v2h-1zM616 514h1v2h-1zM617 511h1v3h-1zM618 508h1v3h-1zM619 506h1v2h-1zM620 503h1v3h-1zM621 500h1v3h-1zM622 496h1v4h-1zM623 493h1v3h-1zM624 491h1v2h-1zM625 490h1v1h-1zM626 488h1v2h-1zM627 487h1v1h-1zM628 486h1v1h-1zM629 485h1v1h-1zM630 484h1v1h-1zM631 484h1v1h-1zM632 483h1v1h-1zM633 483h1v1h-1zM634 483h1v1h-1zM635 483h1v1h-1zM636 483h1v1h-1zM637 484h1v1h-1zM638 484h1v1h-1zM639 485h1v1h-1zM640 486h1v1h-1zM641 487h1v2h-1zM642 489h1v2h-1zM643 491h1v2h-1zM644 493h1v2h-1zM645 495h1v2h-1zM646 497h1v3h-1zM647 500h1v2h-1zM648 502h1v3h-1zM649 505h1v2h-1zM650 507h1v1h-1zM651 507h1v1h-1zM652 508h1v1h-1zM653 508h1v2h-1zM654 505h1v3h-1zM655 502h1v3h-1zM656 499h1v3h-1zM657 497h1v2h-1zM658 494h1v3h-1zM659 492h1v2h-1zM660 490h1v2h-1zM661 487h1v3h-1zM662 485h1v2h-1zM663 483h1v2h-1zM664 481h1v2h-1zM665 479h1v2h-1zM666 479h1v1h-1zM667 478h1v1h-1zM668 478h1v1h-1zM669 479h1v1h-1zM670 480h1v1h-1zM671 480h1v1h-1zM672 481h1v1h-1zM673 482h1v2h-1zM674 484h1v2h-1zM675 486h1v3h-1zM676 489h1v2h-1zM677 491h1v3h-1zM678 494h1v4h-1zM679 498h1v4h-1zM680 502h1v4h-1zM681 506h1v3h-1zM682 509h1v4h-1zM683 513h1v4h-1zM684 517h1v3h-1zM685 520h1v2h-1zM686 522h1v3h-1zM687 525h1v2h-1zM688 527h1v2h-1zM689 529h1v2h-1zM690 531h1v1h-1zM691 531h1v1h-1zM692 532h1v1h-1zM693 533h1v1h-1zM694 534h1v1h-1zM695 535h1v1h-1zM696 536h1v1h-1zM697 537h1v1h-1zM698 537h1v1h-1zM699 537h1v1h-1zM700 538h1v1h-1zM701 538h1v1h-1zM702 538h1v1h-1zM703 538h1v1h-1zM704 538h1v1h-1zM705 538h1v1h-1zM706 537h1v1h-1zM707 536h1v1h-1zM708 535h1v1h-1zM709 534h1v1h-1zM710 533h1v1h-1zM711 532h1v1h-1zM712 531h1v1h-1zM713 530h1v1h-1zM714 529h1v1h-1zM715 528h1v1h-1zM716 527h1v1h-1zM717 525h1v2h-1zM718 523h1v2h-1zM719 521h1v2h-1zM720 519h1v2h-1zM721 517h1v2h-1zM722 514h1v3h-1zM723 510h1v4h-1zM724 507h1v3h-1zM725 504h1v3h-1zM726 500h1v4h-1zM727 497h1v3h-1zM728 493h1v4h-1zM729 491h1v2h-1zM730 489h1v2h-1zM731 488h1v1h-1zM732 486h1v2h-1zM733 485h1v1h-1zM734 485h1v1h-1zM735 485h1v1h-1zM736 486h1v1h-1zM737 486h1v2h-1zM738 488h1v3h-1zM739 491h1v2h-1zM740 493h1v3h-1zM741 496h1v3h-1zM742 499h1v3h-1zM743 502h1v4h-1zM744 506h1v3h-1zM745 509h1v3h-1zM746 512h1v2h-1zM747 514h1v3h-1zM748 517h1v2h-1zM749 519h1v2h-1zM750 521h1v1h-1zM751 521h1v1h-1zM752 522h1v1h-1zM753 523h1v1h-1zM754 522h1v1h-1zM755 522h1v1h-1zM756 521h1v1h-1zM757 520h1v1h-1zM758 520h1v1h-1zM759 519h1v1h-1zM760 519h1v1h-1zM761 518h1v1h-1zM762 518h1v1h-1zM763 517h1v1h-1zM764 517h1v1h-1zM765 516h1v1h-1zM766 516h1v1h-1zM767 515h1v1h-1zM768 515h1v1h-1zM769 514h1v1h-1zM770 514h1v1h-1zM771 514h1v1h-1zM772 513h1v1h-1zM773 513h1v1h-1zM774 513h1v1h-1zM775 513h1v1h-1zM776 514h1v1h-1zM777 514h1v1h-1zM778 514h1v1h-1zM779 515h1v1h-1zM780 515h1v1h-1zM781 516h1v1h-1zM782 516h1v1h-1zM783 515h1v1h-1zM784 515h1v1h-1zM785 513h1v2h-1zM786 511h1v2h-1zM787 509h1v2h-1zM788 507h1v2h-1zM789 505h1v2h-1zM790 502h1v3h-1zM791 500h1v2h-1zM792 497h1v3h-1zM793 494h1v3h-1zM794 492h1v2h-1zM795 490h1v2h-1zM796 488h1v2h-1zM797 486h1v2h-1zM798 485h1v1h-1zM799 485h1v1h-1zM800 484h1v1h-1zM801 483h1v1h-1zM802 483h1v1h-1zM803 483h1v1h-1zM804 483h1v2h-1zM805 485h1v2h-1zM806 487h1v2h-1zM807 489h1v2h-1zM808 491h1v2h-1zM809 493h1v2h-1zM810 495h1v3h-1zM811 498h1v2h-1zM812 500h1v2h-1zM813 502h1v3h-1zM814 505h1v4h-1zM815 509h1v4h-1zM816 513h1v4h-1zM817 517h1v3h-1zM818 520h1v3h-1zM819 523h1v2h-1zM820 525h1v3h-1zM821 528h1v2h-1zM822 529h1v1h-1zM823 529h1v1h-1zM824 529h1v1h-1zM825 528h1v2h-1zM826 525h1v3h-1zM827 523h1v2h-1zM828 520h1v3h-1zM829 517h1v3h-1zM830 514h1v3h-1zM831 512h1v2h-1zM832 509h1v3h-1zM833 507h1v2h-1zM834 505h1v2h-1zM835 503h1v2h-1zM836 501h1v2h-1zM837 500h1v1h-1zM838 500h1v1h-1zM839 501h1v1h-1zM840 501h1v1h-1zM841 502h1v2h-1zM842 504h1v2h-1zM843 506h1v2h-1zM844 508h1v2h-1zM845 510h1v3h-1zM846 513h1v3h-1zM847 516h1v4h-1zM848 520h1v3h-1zM849 523h1v3h-1zM850 526h1v2h-1zM851 528h1v3h-1zM852 531h1v2h-1zM853 533h1v2h-1zM854 534h1v1h-1zM855 535h1v1h-1zM856 535h1v1h-1zM857 536h1v1h-1zM858 536h1v1h-1zM859 536h1v1h-1zM860 536h1v1h-1zM861 536h1v1h-1zM862 536h1v1h-1zM863 536h1v1h-1zM864 536h1v1h-1zM865 536h1v1h-1zM866 536h1v1h-1zM867 536h1v1h-1zM868 535h1v1h-1zM869 535h1v1h-1zM870 534h1v1h-1zM871 532h1v2h-1zM872 531h1v1h-1zM873 530h1v1h-1zM874 528h1v2h-1zM875 527h1v1h-1zM876 525h1v2h-1zM877 523h1v2h-1zM878 521h1v2h-1zM879 519h1v2h-1zM880 517h1v2h-1zM881 515h1v2h-1zM882 512h1v3h-1zM883 510h1v2h-1zM884 507h1v3h-1zM885 504h1v3h-1zM886 501h1v3h-1zM887 498h1v3h-1zM888 495h1v3h-1zM889 492h1v3h-1zM890 490h1v2h-1zM891 487h1v3h-1zM892 485h1v2h-1zM893 483h1v2h-1zM894 482h1v1h-1zM895 480h1v2h-1zM896 479h1v1h-1zM897 478h1v1h-1zM898 478h1v1h-1zM899 478h1v1h-1zM900 478h1v1h-1zM901 478h1v2h-1zM902 480h1v2h-1zM903 482h1v3h-1zM904 485h1v2h-1zM905 487h1v3h-1zM906 490h1v4h-1zM907 494h1v3h-1zM908 497h1v4h-1zM909 501h1v3h-1zM910 504h1v3h-1zM911 507h1v3h-1zM912 510h1v3h-1zM913 513h1v2h-1zM914 515h1v1h-1zM915 515h1v1h-1zM916 516h1v1h-1zM917 517h1v1h-1zM918 515h1v2h-1zM919 514h1v1h-1zM920 512h1v2h-1zM921 511h1v1h-1zM922 509h1v2h-1zM923 507h1v2h-1zM924 505h1v2h-1zM925 503h1v2h-1zM926 501h1v2h-1zM927 498h1v3h-1zM928 496h1v2h-1zM929 493h1v3h-1zM930 491h1v2h-1zM931 489h1v2h-1zM932 487h1v2h-1zM933 486h1v1h-1zM934 485h1v1h-1zM935 483h1v2h-1zM936 482h1v1h-1zM937 481h1v1h-1zM938 481h1v1h-1zM939 480h1v1h-1zM940 480h1v1h-1zM941 479h1v1h-1zM942 480h1v1h-1zM943 480h1v1h-1zM944 481h1v1h-1zM945 482h1v2h-1zM946 484h1v2h-1zM947 486h1v2h-1zM948 488h1v2h-1zM949 490h1v4h-1zM950 494h1v4h-1zM951 498h1v4h-1zM952 502h1v4h-1zM953 506h1v3h-1zM954 509h1v3h-1zM955 512h1v3h-1zM956 515h1v3h-1zM957 518h1v2h-1zM958 520h1v2h-1zM959 522h1v1h-1zM960 523h1v2h-1zM961 525h1v1h-1zM962 523h1v2h-1zM963 521h1v2h-1zM964 519h1v2h-1zM965 517h1v2h-1zM966 515h1v2h-1zM967 513h1v2h-1zM968 511h1v2h-1zM969 509h1v2h-1zM970 507h1v2h-1zM971 506h1v1h-1zM972 504h1v2h-1zM973 503h1v1h-1zM974 504h1v1h-1zM975 505h1v1h-1zM976 506h1v1h-1zM977 507h1v2h-1zM978 509h1v3h-1zM979 512h1v2h-1zM980 514h1v3h-1zM981 517h1v3h-1zM982 520h1v2h-1zM983 522h1v2h-1zM984 524h1v2h-1zM985 526h1v1h-1zM986 526h1v1h-1zM987 526h1v1h-1zM988 527h1v1h-1zM989 527h1v1h-1zM990 525h1v2h-1zM991 524h1v1h-1zM992 523h1v1h-1z"/>
<g shape-rendering="crispEdges" fill="#000">
<rect x="4" y="4" width="1234" height="1"/>
<rect x="4" y="464" width="1234" height="1"/>
<rect x="4" y="4" width="1" height="461"/>
<rect x="1237" y="4" width="1" height="461"/>
<rect x="4" y="466" width="1234" height="1"/>
<rect x="4" y="544" width="1234" height="1"/>
<rect x="4" y="466" width="1" height="79"/>
<rect x="1237" y="466" width="1" height="79"/>
<rect x="1238" y="32" width="2" height="1"/>
<rect x="1238" y="65" width="2" height="1"/>
<rect x="1238" y="98" width="2" height="1"/>
<rect x="1238" y="131" width="2" height="1"/>
<rect x="1238" y="164" width="2" height="1"/>
<rect x="1238" y="197" width="2" height="1"/>
<rect x="1238" y="230" width="2" height="1"/>
<rect x="1238" y="263" width="2" height="1"/>
<rect x="1238" y="296" width="2" height="1"/>
<rect x="1238" y="329" width="2" height="1"/>
<rect x="1238" y="362" width="2" height="1"/>
<rect x="1238" y="395" width="2" height="1"/>
<rect x="1238" y="428" width="2" height="1"/>
<rect x="1238" y="461" width="2" height="1"/>
<rect x="1238" y="468" width="1" height="1"/>
<rect x="1238" y="483" width="1" height="1"/>
<rect x="1238" y="528" width="1" height="1"/>
<rect x="1238" y="543" width="1" height="1"/>
<rect x="5" y="545" width="1" height="3"/>
<rect x="69" y="545" width="1" height="3"/>
<rect x="133" y="545" width="1" height="3"/>
<rect x="197" y="545" width="1" height="3"/>
<rect x="261" y="545" width="1" height="3"/>
<rect x="325" y="545" width="1" height="3"/>
<rect x="389" y="545" width="1" height="3"/>
<rect x="453" y="545" width="1" height="3"/>
<rect x="517" y="545" width="1" height="3"/>
<rect x="581" y="545" width="1" height="3"/>
<rect x="645" y="545" width="1" height="3"/>
<rect x="709" y="545" width="1" height="3"/>
<rect x="773" y="545" width="1" height="3"/>
<rect x="837" y="545" width="1" height="3"/>
<rect x="901" y="545" width="1" height="3"/>
<rect x="965" y="545" width="1" height="3"/>
</g>
<path d="M997 5h9v1h-1v1h-1v1h-1v1h-1v1h-1v-1h-1v-1h-1v-1h-1v-1h-1z" fill="#C0C0C0" shape-rendering="crispEdges"/>
<path d="M8 11h7v1h-1v1h-1v1h-1v1h-1v-1h-1v-1h-1v-1h-1z" fill="#000" shape-rendering="crispEdges"/>
<text transform="translate(19.8,16) scale(0.945,1)" font-size="10.2" fill="#000" stroke="#000" stroke-width="0.15" text-rendering="geometricPrecision" >BTCUSD,H4</text>
<text transform="translate(79.8,16) scale(0.895,1)" font-size="10.2" fill="#000" stroke="#000" stroke-width="0.15" text-rendering="geometricPrecision" >68588</text>
<text transform="translate(107.7,16) scale(0.895,1)" font-size="10.2" fill="#000" stroke="#000" stroke-width="0.15" text-rendering="geometricPrecision" >69177</text>
<text transform="translate(135.6,16) scale(0.895,1)" font-size="10.2" fill="#000" stroke="#000" stroke-width="0.15" text-rendering="geometricPrecision" >68398</text>
<text transform="translate(163.5,16) scale(0.895,1)" font-size="10.2" fill="#000" stroke="#000" stroke-width="0.15" text-rendering="geometricPrecision" >68521</text>
<text transform="translate(9,478.5) scale(0.922,1)" font-size="10.2" fill="#000" stroke="#000" stroke-width="0.15" text-rendering="geometricPrecision" >Sto(5,3,3) 35.5954 28.6536</text>
<text transform="translate(1242.8,36) scale(0.895,1)" font-size="10.2" fill="#000" stroke="#000" stroke-width="0.15" text-rendering="geometricPrecision" >97306</text>
<text transform="translate(1242.8,69) scale(0.895,1)" font-size="10.2" fill="#000" stroke="#000" stroke-width="0.15" text-rendering="geometricPrecision" >94416</text>
<text transform="translate(1242.8,102) scale(0.895,1)" font-size="10.2" fill="#000" stroke="#000" stroke-width="0.15" text-rendering="geometricPrecision" >91441</text>
<text transform="translate(1242.8,135) scale(0.895,1)" font-size="10.2" fill="#000" stroke="#000" stroke-width="0.15" text-rendering="geometricPrecision" >88466</text>
<text transform="translate(1242.8,168) scale(0.895,1)" font-size="10.2" fill="#000" stroke="#000" stroke-width="0.15" text-rendering="geometricPrecision" >85576</text>
<text transform="translate(1242.8,201) scale(0.895,1)" font-size="10.2" fill="#000" stroke="#000" stroke-width="0.15" text-rendering="geometricPrecision" >82601</text>
<text transform="translate(1242.8,234) scale(0.895,1)" font-size="10.2" fill="#000" stroke="#000" stroke-width="0.15" text-rendering="geometricPrecision" >79711</text>
<text transform="translate(1242.8,267) scale(0.895,1)" font-size="10.2" fill="#000" stroke="#000" stroke-width="0.15" text-rendering="geometricPrecision" >76736</text>
<text transform="translate(1242.8,300) scale(0.895,1)" font-size="10.2" fill="#000" stroke="#000" stroke-width="0.15" text-rendering="geometricPrecision" >73846</text>
<text transform="translate(1242.8,333) scale(0.895,1)" font-size="10.2" fill="#000" stroke="#000" stroke-width="0.15" text-rendering="geometricPrecision" >70871</text>
<text transform="translate(1242.8,366) scale(0.895,1)" font-size="10.2" fill="#000" stroke="#000" stroke-width="0.15" text-rendering="geometricPrecision" >67896</text>
<text transform="translate(1242.8,399) scale(0.895,1)" font-size="10.2" fill="#000" stroke="#000" stroke-width="0.15" text-rendering="geometricPrecision" >65006</text>
<text transform="translate(1242.8,432) scale(0.895,1)" font-size="10.2" fill="#000" stroke="#000" stroke-width="0.15" text-rendering="geometricPrecision" >62031</text>
<text transform="translate(1242.8,465) scale(0.895,1)" font-size="10.2" fill="#000" stroke="#000" stroke-width="0.15" text-rendering="geometricPrecision" >59141</text>
<text transform="translate(1241.5,476.5) scale(0.895,1)" font-size="10.2" fill="#000" stroke="#000" stroke-width="0.15" text-rendering="geometricPrecision" >100</text>
<text transform="translate(1241.5,486.5) scale(0.895,1)" font-size="10.2" fill="#000" stroke="#000" stroke-width="0.15" text-rendering="geometricPrecision" >80</text>
<text transform="translate(1241.5,531.5) scale(0.895,1)" font-size="10.2" fill="#000" stroke="#000" stroke-width="0.15" text-rendering="geometricPrecision" >20</text>
<text transform="translate(1241.5,541.5) scale(0.895,1)" font-size="10.2" fill="#000" stroke="#000" stroke-width="0.15" text-rendering="geometricPrecision" >0</text>
<rect x="1239" y="316" width="33" height="11" fill="#DC143C" shape-rendering="crispEdges"/>
<text transform="translate(1243.1,324.5) scale(0.895,1)" font-size="10.2" fill="#fff" stroke="#fff" stroke-width="0.15" text-rendering="geometricPrecision" >71509</text>
<rect x="1239" y="350" width="33" height="11" fill="#000" shape-rendering="crispEdges"/>
<text transform="translate(1243.1,358.5) scale(0.895,1)" font-size="10.2" fill="#fff" stroke="#fff" stroke-width="0.15" text-rendering="geometricPrecision" >68521</text>
<rect x="1239" y="365" width="33" height="11" fill="#3CB371" shape-rendering="crispEdges"/>
<text transform="translate(1243.1,373.5) scale(0.895,1)" font-size="10.2" fill="#fff" stroke="#fff" stroke-width="0.15" text-rendering="geometricPrecision" >67153</text>
<rect x="1239" y="400" width="33" height="11" fill="#3CB371" shape-rendering="crispEdges"/>
<text transform="translate(1243.1,408.5) scale(0.895,1)" font-size="10.2" fill="#fff" stroke="#fff" stroke-width="0.15" text-rendering="geometricPrecision" >64042</text>
<rect x="1239" y="444" width="33" height="11" fill="#3CB371" shape-rendering="crispEdges"/>
<text transform="translate(1243.1,452.5) scale(0.895,1)" font-size="10.2" fill="#fff" stroke="#fff" stroke-width="0.15" text-rendering="geometricPrecision" >60088</text>
<text transform="translate(3.7,556.5) scale(0.922,1)" font-size="10.2" fill="#000" stroke="#000" stroke-width="0.15" text-rendering="geometricPrecision" >29 Dec 2025</text>
<text transform="translate(68.2,556.5) scale(0.893,1)" font-size="10.2" fill="#000" stroke="#000" stroke-width="0.15" text-rendering="geometricPrecision" >3 Jan 12:00</text>
<text transform="translate(132.2,556.5) scale(0.893,1)" font-size="10.2" fill="#000" stroke="#000" stroke-width="0.15" text-rendering="geometricPrecision" >6 Jan 04:00</text>
<text transform="translate(196.2,556.5) scale(0.893,1)" font-size="10.2" fill="#000" stroke="#000" stroke-width="0.15" text-rendering="geometricPrecision" >8 Jan 20:00</text>
<text transform="translate(260.2,556.5) scale(0.893,1)" font-size="10.2" fill="#000" stroke="#000" stroke-width="0.15" text-rendering="geometricPrecision" >11 Jan 12:00</text>
<text transform="translate(324.2,556.5) scale(0.893,1)" font-size="10.2" fill="#000" stroke="#000" stroke-width="0.15" text-rendering="geometricPrecision" >14 Jan 04:00</text>
<text transform="translate(388.2,556.5) scale(0.893,1)" font-size="10.2" fill="#000" stroke="#000" stroke-width="0.15" text-rendering="geometricPrecision" >16 Jan 20:00</text>
<text transform="translate(452.2,556.5) scale(0.893,1)" font-size="10.2" fill="#000" stroke="#000" stroke-width="0.15" text-rendering="geometricPrecision" >19 Jan 12:00</text>
<text transform="translate(516.2,556.5) scale(0.893,1)" font-size="10.2" fill="#000" stroke="#000" stroke-width="0.15" text-rendering="geometricPrecision" >22 Jan 04:00</text>
<text transform="translate(580.2,556.5) scale(0.893,1)" font-size="10.2" fill="#000" stroke="#000" stroke-width="0.15" text-rendering="geometricPrecision" >24 Jan 20:00</text>
<text transform="translate(644.2,556.5) scale(0.893,1)" font-size="10.2" fill="#000" stroke="#000" stroke-width="0.15" text-rendering="geometricPrecision" >27 Jan 12:00</text>
<text transform="translate(708.2,556.5) scale(0.893,1)" font-size="10.2" fill="#000" stroke="#000" stroke-width="0.15" text-rendering="geometricPrecision" >30 Jan 04:00</text>
<text transform="translate(772.2,556.5) scale(0.893,1)" font-size="10.2" fill="#000" stroke="#000" stroke-width="0.15" text-rendering="geometricPrecision" >1 Feb 20:00</text>
<text transform="translate(836.2,556.5) scale(0.893,1)" font-size="10.2" fill="#000" stroke="#000" stroke-width="0.15" text-rendering="geometricPrecision" >4 Feb 12:00</text>
<text transform="translate(900.2,556.5) scale(0.893,1)" font-size="10.2" fill="#000" stroke="#000" stroke-width="0.15" text-rendering="geometricPrecision" >7 Feb 04:00</text>
<text transform="translate(964.2,556.5) scale(0.893,1)" font-size="10.2" fill="#000" stroke="#000" stroke-width="0.15" text-rendering="geometricPrecision" >9 Feb 20:00</text>
</svg></body></html>
